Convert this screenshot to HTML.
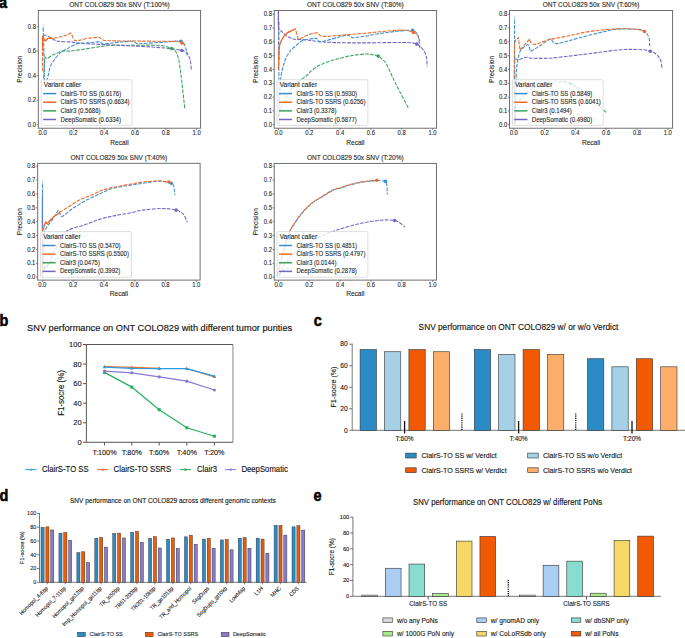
<!DOCTYPE html>
<html><head><meta charset="utf-8"><style>
html,body{margin:0;padding:0;background:#fff;}
body{width:685px;height:638px;overflow:hidden;}
svg{display:block;font-family:"Liberation Sans", sans-serif;}
text{}
</style></head><body>
<svg width="685" height="638" viewBox="0 0 685 638">
<rect width="685" height="638" fill="#fff"/>
<text x="-1" y="7.6" font-size="14.5" text-anchor="start" font-weight="bold" fill="#000" stroke="#000" stroke-width="0.51" transform="translate(-1 7.6) scale(1 1.08) translate(1 -7.6)">a</text>
<text x="-0.5" y="326.4" font-size="14.5" text-anchor="start" font-weight="bold" fill="#000" stroke="#000" stroke-width="0.51" transform="translate(-0.5 326.4) scale(1 1.08) translate(0.5 -326.4)">b</text>
<text x="313.8" y="325.9" font-size="14.5" text-anchor="start" font-weight="bold" fill="#000" stroke="#000" stroke-width="0.51" transform="translate(313.8 325.9) scale(1 1.08) translate(-313.8 -325.9)">c</text>
<text x="-0.5" y="500.7" font-size="14.5" text-anchor="start" font-weight="bold" fill="#000" stroke="#000" stroke-width="0.51" transform="translate(-0.5 500.7) scale(1 1.08) translate(0.5 -500.7)">d</text>
<text x="313.6" y="501.4" font-size="14.5" text-anchor="start" font-weight="bold" fill="#000" stroke="#000" stroke-width="0.51" transform="translate(313.6 501.4) scale(1 1.08) translate(-313.6 -501.4)">e</text>
<text x="27.1" y="331.2" font-size="9.23" text-anchor="start" font-weight="normal" fill="#111" stroke="#111" stroke-width="0.14" transform="translate(27.1 331.2) scale(1 1.08) translate(-27.1 -331.2)">SNV performance on ONT COLO829 with different tumor purities</text>
<line x1="232.9" y1="344.5" x2="232.9" y2="442.3" stroke="#a8a8a8" stroke-width="1.4"/>
<path d="M232.9 344.5 L86.4 344.5 L86.4 442.3 L232.9 442.3" stroke="#444" stroke-width="0.9" fill="none"/>
<line x1="82.9" y1="442.3" x2="86.4" y2="442.3" stroke="#444" stroke-width="0.9"/>
<text x="81.6" y="445" font-size="7.5" text-anchor="end" font-weight="normal" fill="#111" stroke="#111" stroke-width="0.11" transform="translate(81.6 445) scale(1 1.08) translate(-81.6 -445)">0</text>
<line x1="82.9" y1="422.74" x2="86.4" y2="422.74" stroke="#444" stroke-width="0.9"/>
<text x="81.6" y="425.44" font-size="7.5" text-anchor="end" font-weight="normal" fill="#111" stroke="#111" stroke-width="0.11" transform="translate(81.6 425.44) scale(1 1.08) translate(-81.6 -425.44)">20</text>
<line x1="82.9" y1="403.18" x2="86.4" y2="403.18" stroke="#444" stroke-width="0.9"/>
<text x="81.6" y="405.88" font-size="7.5" text-anchor="end" font-weight="normal" fill="#111" stroke="#111" stroke-width="0.11" transform="translate(81.6 405.88) scale(1 1.08) translate(-81.6 -405.88)">40</text>
<line x1="82.9" y1="383.62" x2="86.4" y2="383.62" stroke="#444" stroke-width="0.9"/>
<text x="81.6" y="386.32" font-size="7.5" text-anchor="end" font-weight="normal" fill="#111" stroke="#111" stroke-width="0.11" transform="translate(81.6 386.32) scale(1 1.08) translate(-81.6 -386.32)">60</text>
<line x1="82.9" y1="364.06" x2="86.4" y2="364.06" stroke="#444" stroke-width="0.9"/>
<text x="81.6" y="366.76" font-size="7.5" text-anchor="end" font-weight="normal" fill="#111" stroke="#111" stroke-width="0.11" transform="translate(81.6 366.76) scale(1 1.08) translate(-81.6 -366.76)">80</text>
<line x1="82.9" y1="344.5" x2="86.4" y2="344.5" stroke="#444" stroke-width="0.9"/>
<text x="81.6" y="347.2" font-size="7.5" text-anchor="end" font-weight="normal" fill="#111" stroke="#111" stroke-width="0.11" transform="translate(81.6 347.2) scale(1 1.08) translate(-81.6 -347.2)">100</text>
<line x1="104.5" y1="442.3" x2="104.5" y2="445.5" stroke="#444" stroke-width="0.9"/>
<text x="104.5" y="454.7" font-size="7.26" text-anchor="middle" font-weight="normal" fill="#111" stroke="#111" stroke-width="0.11" transform="translate(104.5 454.7) scale(1 1.08) translate(-104.5 -454.7)">T:100%</text>
<line x1="131.8" y1="442.3" x2="131.8" y2="445.5" stroke="#444" stroke-width="0.9"/>
<text x="131.8" y="454.7" font-size="7.26" text-anchor="middle" font-weight="normal" fill="#111" stroke="#111" stroke-width="0.11" transform="translate(131.8 454.7) scale(1 1.08) translate(-131.8 -454.7)">T:80%</text>
<line x1="159.2" y1="442.3" x2="159.2" y2="445.5" stroke="#444" stroke-width="0.9"/>
<text x="159.2" y="454.7" font-size="7.26" text-anchor="middle" font-weight="normal" fill="#111" stroke="#111" stroke-width="0.11" transform="translate(159.2 454.7) scale(1 1.08) translate(-159.2 -454.7)">T:60%</text>
<line x1="186.8" y1="442.3" x2="186.8" y2="445.5" stroke="#444" stroke-width="0.9"/>
<text x="186.8" y="454.7" font-size="7.26" text-anchor="middle" font-weight="normal" fill="#111" stroke="#111" stroke-width="0.11" transform="translate(186.8 454.7) scale(1 1.08) translate(-186.8 -454.7)">T:40%</text>
<line x1="214.4" y1="442.3" x2="214.4" y2="445.5" stroke="#444" stroke-width="0.9"/>
<text x="214.4" y="454.7" font-size="7.26" text-anchor="middle" font-weight="normal" fill="#111" stroke="#111" stroke-width="0.11" transform="translate(214.4 454.7) scale(1 1.08) translate(-214.4 -454.7)">T:20%</text>
<text x="64.5" y="393" font-size="7.9" text-anchor="middle" font-weight="normal" fill="#111" stroke="#111" stroke-width="0.12" transform="rotate(-90 64.5 393) translate(64.5 393) scale(1 1.08) translate(-64.5 -393)">F1-socre (%)</text>
<path d="M104.5 372.4 L131.8 387.1 L159.2 409.7 L186.8 427.8 L214.4 436.2" stroke="#22b05a" stroke-width="1.2" fill="none"/>
<rect x="103" y="370.9" width="3" height="3" fill="#22b05a" stroke="none" stroke-width="0"/>
<rect x="130.3" y="385.6" width="3" height="3" fill="#22b05a" stroke="none" stroke-width="0"/>
<rect x="157.7" y="408.2" width="3" height="3" fill="#22b05a" stroke="none" stroke-width="0"/>
<rect x="185.3" y="426.3" width="3" height="3" fill="#22b05a" stroke="none" stroke-width="0"/>
<rect x="212.9" y="434.7" width="3" height="3" fill="#22b05a" stroke="none" stroke-width="0"/>
<path d="M104.5 371.2 L131.8 372.8 L159.2 376.9 L186.8 381.2 L214.4 390" stroke="#8a77d6" stroke-width="1.2" fill="none"/>
<circle cx="104.5" cy="371.2" r="1.6" fill="#8a77d6"/>
<circle cx="131.8" cy="372.8" r="1.6" fill="#8a77d6"/>
<circle cx="159.2" cy="376.9" r="1.6" fill="#8a77d6"/>
<circle cx="186.8" cy="381.2" r="1.6" fill="#8a77d6"/>
<circle cx="214.4" cy="390" r="1.6" fill="#8a77d6"/>
<path d="M104.5 366.5 L131.8 367.4 L159.2 368.3 L186.8 368.5 L214.4 376.9" stroke="#f36b21" stroke-width="1.2" fill="none"/>
<path d="M104.5 364.7 L106.2 367.7 L102.8 367.7 Z" fill="#f36b21"/>
<path d="M131.8 365.6 L133.5 368.6 L130.1 368.6 Z" fill="#f36b21"/>
<path d="M159.2 366.5 L160.9 369.5 L157.5 369.5 Z" fill="#f36b21"/>
<path d="M186.8 366.7 L188.5 369.7 L185.1 369.7 Z" fill="#f36b21"/>
<path d="M214.4 375.1 L216.1 378.1 L212.7 378.1 Z" fill="#f36b21"/>
<path d="M104.5 367.1 L131.8 368.3 L159.2 368.7 L186.8 368.7 L214.4 376.2" stroke="#2e9be0" stroke-width="1.2" fill="none"/>
<path d="M104.5 365.3 L106.2 368.3 L102.8 368.3 Z" fill="#2e9be0"/>
<path d="M131.8 366.5 L133.5 369.5 L130.1 369.5 Z" fill="#2e9be0"/>
<path d="M159.2 366.9 L160.9 369.9 L157.5 369.9 Z" fill="#2e9be0"/>
<path d="M186.8 366.9 L188.5 369.9 L185.1 369.9 Z" fill="#2e9be0"/>
<path d="M214.4 374.4 L216.1 377.4 L212.7 377.4 Z" fill="#2e9be0"/>
<line x1="25.2" y1="469.6" x2="36.6" y2="469.6" stroke="#2e9be0" stroke-width="1"/>
<path d="M30.9 468.2 L32.2 470.6 L29.6 470.6 Z" fill="#2e9be0"/>
<text x="41.9" y="472.5" font-size="7.76" text-anchor="start" font-weight="normal" fill="#111" stroke="#111" stroke-width="0.12" transform="translate(41.9 472.5) scale(1 1.08) translate(-41.9 -472.5)">ClairS-TO SS</text>
<line x1="96.9" y1="469.6" x2="108.3" y2="469.6" stroke="#f36b21" stroke-width="1"/>
<path d="M102.6 468.2 L103.9 470.6 L101.3 470.6 Z" fill="#f36b21"/>
<text x="113.6" y="472.5" font-size="7.76" text-anchor="start" font-weight="normal" fill="#111" stroke="#111" stroke-width="0.12" transform="translate(113.6 472.5) scale(1 1.08) translate(-113.6 -472.5)">ClairS-TO SSRS</text>
<line x1="179.8" y1="469.6" x2="191.2" y2="469.6" stroke="#22b05a" stroke-width="1"/>
<rect x="184.4" y="468.5" width="2.2" height="2.2" fill="#22b05a" stroke="none" stroke-width="0"/>
<text x="196.9" y="472.5" font-size="7.76" text-anchor="start" font-weight="normal" fill="#111" stroke="#111" stroke-width="0.12" transform="translate(196.9 472.5) scale(1 1.08) translate(-196.9 -472.5)">Clair3</text>
<line x1="224.9" y1="469.6" x2="236.3" y2="469.6" stroke="#8a77d6" stroke-width="1"/>
<circle cx="230.6" cy="469.6" r="1.2" fill="#8a77d6"/>
<text x="241.4" y="472.5" font-size="7.76" text-anchor="start" font-weight="normal" fill="#111" stroke="#111" stroke-width="0.12" transform="translate(241.4 472.5) scale(1 1.08) translate(-241.4 -472.5)">DeepSomatic</text>
<text x="518.5" y="330.2" font-size="8.3" text-anchor="middle" font-weight="normal" fill="#111" stroke="#111" stroke-width="0.12" transform="translate(518.5 330.2) scale(1 1.08) translate(-518.5 -330.2)">SNV performance on ONT COLO829 w/ or w/o Verdict</text>
<line x1="352.2" y1="343.6" x2="352.2" y2="430.3" stroke="#555" stroke-width="0.8"/>
<line x1="352.2" y1="430.3" x2="685" y2="430.3" stroke="#555" stroke-width="0.8"/>
<line x1="349.2" y1="430.3" x2="352.2" y2="430.3" stroke="#555" stroke-width="0.8"/>
<text x="347.6" y="432.6" font-size="6.65" text-anchor="end" font-weight="normal" fill="#111" stroke="#111" stroke-width="0.1" transform="translate(347.6 432.6) scale(1 1.08) translate(-347.6 -432.6)">0</text>
<line x1="349.2" y1="408.77" x2="352.2" y2="408.77" stroke="#555" stroke-width="0.8"/>
<text x="347.6" y="411.07" font-size="6.65" text-anchor="end" font-weight="normal" fill="#111" stroke="#111" stroke-width="0.1" transform="translate(347.6 411.07) scale(1 1.08) translate(-347.6 -411.07)">20</text>
<line x1="349.2" y1="387.25" x2="352.2" y2="387.25" stroke="#555" stroke-width="0.8"/>
<text x="347.6" y="389.55" font-size="6.65" text-anchor="end" font-weight="normal" fill="#111" stroke="#111" stroke-width="0.1" transform="translate(347.6 389.55) scale(1 1.08) translate(-347.6 -389.55)">40</text>
<line x1="349.2" y1="365.73" x2="352.2" y2="365.73" stroke="#555" stroke-width="0.8"/>
<text x="347.6" y="368.03" font-size="6.65" text-anchor="end" font-weight="normal" fill="#111" stroke="#111" stroke-width="0.1" transform="translate(347.6 368.03) scale(1 1.08) translate(-347.6 -368.03)">60</text>
<line x1="349.2" y1="344.2" x2="352.2" y2="344.2" stroke="#555" stroke-width="0.8"/>
<text x="347.6" y="346.5" font-size="6.65" text-anchor="end" font-weight="normal" fill="#111" stroke="#111" stroke-width="0.1" transform="translate(347.6 346.5) scale(1 1.08) translate(-347.6 -346.5)">80</text>
<text x="336.3" y="387" font-size="7.1" text-anchor="middle" font-weight="normal" fill="#111" stroke="#111" stroke-width="0.11" transform="rotate(-90 336.3 387) translate(336.3 387) scale(1 1.08) translate(-336.3 -387)">F1-socre (%)</text>
<rect x="360.1" y="349.58" width="16.3" height="80.72" fill="#2b8bc6" stroke="#333" stroke-width="0.6"/>
<rect x="384.5" y="351.73" width="16.3" height="78.57" fill="#a5d0e5" stroke="#333" stroke-width="0.6"/>
<rect x="408.9" y="349.58" width="16.3" height="80.72" fill="#f15a02" stroke="#333" stroke-width="0.6"/>
<rect x="433.3" y="351.73" width="16.3" height="78.57" fill="#fdae6b" stroke="#333" stroke-width="0.6"/>
<line x1="404.6" y1="421" x2="404.6" y2="433.4" stroke="#111" stroke-width="1.3"/>
<text x="404.6" y="441.5" font-size="6.5" text-anchor="middle" font-weight="normal" fill="#111" stroke="#111" stroke-width="0.1" transform="translate(404.6 441.5) scale(1 1.08) translate(-404.6 -441.5)">T:60%</text>
<rect x="474.3" y="349.58" width="16.3" height="80.72" fill="#2b8bc6" stroke="#333" stroke-width="0.6"/>
<rect x="498.7" y="354.42" width="16.3" height="75.88" fill="#a5d0e5" stroke="#333" stroke-width="0.6"/>
<rect x="523.1" y="349.58" width="16.3" height="80.72" fill="#f15a02" stroke="#333" stroke-width="0.6"/>
<rect x="547.5" y="354.42" width="16.3" height="75.88" fill="#fdae6b" stroke="#333" stroke-width="0.6"/>
<line x1="518.6" y1="421" x2="518.6" y2="433.4" stroke="#111" stroke-width="1.3"/>
<text x="518.6" y="441.5" font-size="6.5" text-anchor="middle" font-weight="normal" fill="#111" stroke="#111" stroke-width="0.1" transform="translate(518.6 441.5) scale(1 1.08) translate(-518.6 -441.5)">T:40%</text>
<rect x="587.5" y="358.73" width="16.3" height="71.57" fill="#2b8bc6" stroke="#333" stroke-width="0.6"/>
<rect x="611.9" y="366.8" width="16.3" height="63.5" fill="#a5d0e5" stroke="#333" stroke-width="0.6"/>
<rect x="636.3" y="358.73" width="16.3" height="71.57" fill="#f15a02" stroke="#333" stroke-width="0.6"/>
<rect x="660.7" y="366.8" width="16.3" height="63.5" fill="#fdae6b" stroke="#333" stroke-width="0.6"/>
<line x1="632" y1="421" x2="632" y2="433.4" stroke="#111" stroke-width="1.3"/>
<text x="632" y="441.5" font-size="6.5" text-anchor="middle" font-weight="normal" fill="#111" stroke="#111" stroke-width="0.1" transform="translate(632 441.5) scale(1 1.08) translate(-632 -441.5)">T:20%</text>
<line x1="461.9" y1="413.4" x2="461.9" y2="430.3" stroke="#111" stroke-width="1.4" stroke-dasharray="1.1 1.1"/>
<line x1="575.7" y1="413.4" x2="575.7" y2="430.3" stroke="#111" stroke-width="1.4" stroke-dasharray="1.1 1.1"/>
<rect x="405.7" y="453.1" width="10.5" height="4.9" fill="#2b8bc6" stroke="#333" stroke-width="0.6"/>
<text x="421.5" y="458.1" font-size="7.08" text-anchor="start" font-weight="normal" fill="#111" stroke="#111" stroke-width="0.11" transform="translate(421.5 458.1) scale(1 1.08) translate(-421.5 -458.1)">ClairS-TO SS w/ Verdict</text>
<rect x="527.7" y="453.1" width="10.5" height="4.9" fill="#a5d0e5" stroke="#333" stroke-width="0.6"/>
<text x="542.9" y="458.1" font-size="7.08" text-anchor="start" font-weight="normal" fill="#111" stroke="#111" stroke-width="0.11" transform="translate(542.9 458.1) scale(1 1.08) translate(-542.9 -458.1)">ClairS-TO SS w/o Verdict</text>
<rect x="405.7" y="467.8" width="10.5" height="4.9" fill="#f15a02" stroke="#333" stroke-width="0.6"/>
<text x="421.5" y="472.8" font-size="7.08" text-anchor="start" font-weight="normal" fill="#111" stroke="#111" stroke-width="0.11" transform="translate(421.5 472.8) scale(1 1.08) translate(-421.5 -472.8)">ClairS-TO SSRS w/ Verdict</text>
<rect x="527.7" y="467.8" width="10.5" height="4.9" fill="#fdae6b" stroke="#333" stroke-width="0.6"/>
<text x="542.9" y="472.8" font-size="7.08" text-anchor="start" font-weight="normal" fill="#111" stroke="#111" stroke-width="0.11" transform="translate(542.9 472.8) scale(1 1.08) translate(-542.9 -472.8)">ClairS-TO SSRS w/o Verdict</text>
<text x="70" y="503.1" font-size="6.52" text-anchor="start" font-weight="normal" fill="#111" stroke="#111" stroke-width="0.1" transform="translate(70 503.1) scale(1 1.08) translate(-70 -503.1)">SNV performance on ONT COLO829 across different genomic contexts</text>
<line x1="39.5" y1="513" x2="39.5" y2="582.3" stroke="#555" stroke-width="0.8"/>
<line x1="39.5" y1="582.3" x2="306.6" y2="582.3" stroke="#555" stroke-width="0.8"/>
<line x1="36.9" y1="582.3" x2="39.5" y2="582.3" stroke="#555" stroke-width="0.8"/>
<text x="36.3" y="584.2" font-size="5.5" text-anchor="end" font-weight="normal" fill="#111" stroke="#111" stroke-width="0.08" transform="translate(36.3 584.2) scale(1 1.08) translate(-36.3 -584.2)">0</text>
<line x1="36.9" y1="568.52" x2="39.5" y2="568.52" stroke="#555" stroke-width="0.8"/>
<text x="36.3" y="570.42" font-size="5.5" text-anchor="end" font-weight="normal" fill="#111" stroke="#111" stroke-width="0.08" transform="translate(36.3 570.42) scale(1 1.08) translate(-36.3 -570.42)">20</text>
<line x1="36.9" y1="554.74" x2="39.5" y2="554.74" stroke="#555" stroke-width="0.8"/>
<text x="36.3" y="556.64" font-size="5.5" text-anchor="end" font-weight="normal" fill="#111" stroke="#111" stroke-width="0.08" transform="translate(36.3 556.64) scale(1 1.08) translate(-36.3 -556.64)">40</text>
<line x1="36.9" y1="540.96" x2="39.5" y2="540.96" stroke="#555" stroke-width="0.8"/>
<text x="36.3" y="542.86" font-size="5.5" text-anchor="end" font-weight="normal" fill="#111" stroke="#111" stroke-width="0.08" transform="translate(36.3 542.86) scale(1 1.08) translate(-36.3 -542.86)">60</text>
<line x1="36.9" y1="527.18" x2="39.5" y2="527.18" stroke="#555" stroke-width="0.8"/>
<text x="36.3" y="529.08" font-size="5.5" text-anchor="end" font-weight="normal" fill="#111" stroke="#111" stroke-width="0.08" transform="translate(36.3 529.08) scale(1 1.08) translate(-36.3 -529.08)">80</text>
<line x1="36.9" y1="513.4" x2="39.5" y2="513.4" stroke="#555" stroke-width="0.8"/>
<text x="36.3" y="515.3" font-size="5.5" text-anchor="end" font-weight="normal" fill="#111" stroke="#111" stroke-width="0.08" transform="translate(36.3 515.3) scale(1 1.08) translate(-36.3 -515.3)">100</text>
<text x="23.9" y="547.7" font-size="5.7" text-anchor="middle" font-weight="normal" fill="#111" stroke="#111" stroke-width="0.09" transform="rotate(-90 23.9 547.7) translate(23.9 547.7) scale(1 1.08) translate(-23.9 -547.7)">F1-socre (%)</text>
<rect x="41" y="527.32" width="3.1" height="54.98" fill="#2b8bc6" stroke="#333" stroke-width="0.45"/>
<rect x="45.85" y="526.84" width="3.1" height="55.46" fill="#f15a02" stroke="#333" stroke-width="0.45"/>
<rect x="50.7" y="529.94" width="3.1" height="52.36" fill="#8a7bc6" stroke="#333" stroke-width="0.45"/>
<line x1="47.3" y1="582.3" x2="47.3" y2="584.3" stroke="#555" stroke-width="0.7"/>
<text x="48.3" y="588.9" font-size="5.3" text-anchor="end" font-weight="normal" fill="#111" stroke="#111" stroke-width="0.08" transform="rotate(-45 48.3 588.9) translate(48.3 588.9) scale(1 1.08) translate(-48.3 -588.9)">Homopol_4-6bp</text>
<rect x="58.93" y="533.17" width="3.1" height="49.13" fill="#2b8bc6" stroke="#333" stroke-width="0.45"/>
<rect x="63.78" y="532.49" width="3.1" height="49.81" fill="#f15a02" stroke="#333" stroke-width="0.45"/>
<rect x="68.63" y="540.27" width="3.1" height="42.03" fill="#8a7bc6" stroke="#333" stroke-width="0.45"/>
<line x1="65.23" y1="582.3" x2="65.23" y2="584.3" stroke="#555" stroke-width="0.7"/>
<text x="66.23" y="588.9" font-size="5.3" text-anchor="end" font-weight="normal" fill="#111" stroke="#111" stroke-width="0.08" transform="rotate(-45 66.23 588.9) translate(66.23 588.9) scale(1 1.08) translate(-66.23 -588.9)">Homopol_7-11bp</text>
<rect x="76.86" y="552.67" width="3.1" height="29.63" fill="#2b8bc6" stroke="#333" stroke-width="0.45"/>
<rect x="81.71" y="551.78" width="3.1" height="30.52" fill="#f15a02" stroke="#333" stroke-width="0.45"/>
<rect x="86.56" y="562.59" width="3.1" height="19.71" fill="#8a7bc6" stroke="#333" stroke-width="0.45"/>
<line x1="83.16" y1="582.3" x2="83.16" y2="584.3" stroke="#555" stroke-width="0.7"/>
<text x="84.16" y="588.9" font-size="5.3" text-anchor="end" font-weight="normal" fill="#111" stroke="#111" stroke-width="0.08" transform="rotate(-45 84.16 588.9) translate(84.16 588.9) scale(1 1.08) translate(-84.16 -588.9)">Homopol_ge12bp</text>
<rect x="94.79" y="538.2" width="3.1" height="44.1" fill="#2b8bc6" stroke="#333" stroke-width="0.45"/>
<rect x="99.64" y="537.38" width="3.1" height="44.92" fill="#f15a02" stroke="#333" stroke-width="0.45"/>
<rect x="104.49" y="547.09" width="3.1" height="35.21" fill="#8a7bc6" stroke="#333" stroke-width="0.45"/>
<line x1="101.09" y1="582.3" x2="101.09" y2="584.3" stroke="#555" stroke-width="0.7"/>
<text x="102.09" y="588.9" font-size="5.3" text-anchor="end" font-weight="normal" fill="#111" stroke="#111" stroke-width="0.08" transform="rotate(-45 102.09 588.9) translate(102.09 588.9) scale(1 1.08) translate(-102.09 -588.9)">Imp_Homopol_ge11bp</text>
<rect x="112.72" y="533.38" width="3.1" height="48.92" fill="#2b8bc6" stroke="#333" stroke-width="0.45"/>
<rect x="117.57" y="533.11" width="3.1" height="49.19" fill="#f15a02" stroke="#333" stroke-width="0.45"/>
<rect x="122.42" y="537.93" width="3.1" height="44.37" fill="#8a7bc6" stroke="#333" stroke-width="0.45"/>
<line x1="119.02" y1="582.3" x2="119.02" y2="584.3" stroke="#555" stroke-width="0.7"/>
<text x="120.02" y="588.9" font-size="5.3" text-anchor="end" font-weight="normal" fill="#111" stroke="#111" stroke-width="0.08" transform="rotate(-45 120.02 588.9) translate(120.02 588.9) scale(1 1.08) translate(-120.02 -588.9)">TR_le50bp</text>
<rect x="130.65" y="532.28" width="3.1" height="50.02" fill="#2b8bc6" stroke="#333" stroke-width="0.45"/>
<rect x="135.5" y="531.52" width="3.1" height="50.78" fill="#f15a02" stroke="#333" stroke-width="0.45"/>
<rect x="140.35" y="542.34" width="3.1" height="39.96" fill="#8a7bc6" stroke="#333" stroke-width="0.45"/>
<line x1="136.95" y1="582.3" x2="136.95" y2="584.3" stroke="#555" stroke-width="0.7"/>
<text x="137.95" y="588.9" font-size="5.3" text-anchor="end" font-weight="normal" fill="#111" stroke="#111" stroke-width="0.08" transform="rotate(-45 137.95 588.9) translate(137.95 588.9) scale(1 1.08) translate(-137.95 -588.9)">TR51-200bp</text>
<rect x="148.58" y="538.2" width="3.1" height="44.1" fill="#2b8bc6" stroke="#333" stroke-width="0.45"/>
<rect x="153.43" y="536.62" width="3.1" height="45.68" fill="#f15a02" stroke="#333" stroke-width="0.45"/>
<rect x="158.28" y="547.99" width="3.1" height="34.31" fill="#8a7bc6" stroke="#333" stroke-width="0.45"/>
<line x1="154.88" y1="582.3" x2="154.88" y2="584.3" stroke="#555" stroke-width="0.7"/>
<text x="155.88" y="588.9" font-size="5.3" text-anchor="end" font-weight="normal" fill="#111" stroke="#111" stroke-width="0.08" transform="rotate(-45 155.88 588.9) translate(155.88 588.9) scale(1 1.08) translate(-155.88 -588.9)">TR201-10kbp</text>
<rect x="166.51" y="539.24" width="3.1" height="43.06" fill="#2b8bc6" stroke="#333" stroke-width="0.45"/>
<rect x="171.36" y="537.93" width="3.1" height="44.37" fill="#f15a02" stroke="#333" stroke-width="0.45"/>
<rect x="176.21" y="548.4" width="3.1" height="33.9" fill="#8a7bc6" stroke="#333" stroke-width="0.45"/>
<line x1="172.81" y1="582.3" x2="172.81" y2="584.3" stroke="#555" stroke-width="0.7"/>
<text x="173.81" y="588.9" font-size="5.3" text-anchor="end" font-weight="normal" fill="#111" stroke="#111" stroke-width="0.08" transform="rotate(-45 173.81 588.9) translate(173.81 588.9) scale(1 1.08) translate(-173.81 -588.9)">TR_ge101bp</text>
<rect x="184.44" y="536.83" width="3.1" height="45.47" fill="#2b8bc6" stroke="#333" stroke-width="0.45"/>
<rect x="189.29" y="535.17" width="3.1" height="47.13" fill="#f15a02" stroke="#333" stroke-width="0.45"/>
<rect x="194.14" y="544.27" width="3.1" height="38.03" fill="#8a7bc6" stroke="#333" stroke-width="0.45"/>
<line x1="190.74" y1="582.3" x2="190.74" y2="584.3" stroke="#555" stroke-width="0.7"/>
<text x="191.74" y="588.9" font-size="5.3" text-anchor="end" font-weight="normal" fill="#111" stroke="#111" stroke-width="0.08" transform="rotate(-45 191.74 588.9) translate(191.74 588.9) scale(1 1.08) translate(-191.74 -588.9)">TR_and_Homopol</text>
<rect x="202.37" y="539.1" width="3.1" height="43.2" fill="#2b8bc6" stroke="#333" stroke-width="0.45"/>
<rect x="207.22" y="538.2" width="3.1" height="44.1" fill="#f15a02" stroke="#333" stroke-width="0.45"/>
<rect x="212.07" y="548.26" width="3.1" height="34.04" fill="#8a7bc6" stroke="#333" stroke-width="0.45"/>
<line x1="208.67" y1="582.3" x2="208.67" y2="584.3" stroke="#555" stroke-width="0.7"/>
<text x="209.67" y="588.9" font-size="5.3" text-anchor="end" font-weight="normal" fill="#111" stroke="#111" stroke-width="0.08" transform="rotate(-45 209.67 588.9) translate(209.67 588.9) scale(1 1.08) translate(-209.67 -588.9)">SegDups</text>
<rect x="220.3" y="539.93" width="3.1" height="42.37" fill="#2b8bc6" stroke="#333" stroke-width="0.45"/>
<rect x="225.15" y="539.38" width="3.1" height="42.92" fill="#f15a02" stroke="#333" stroke-width="0.45"/>
<rect x="230" y="549.78" width="3.1" height="32.52" fill="#8a7bc6" stroke="#333" stroke-width="0.45"/>
<line x1="226.6" y1="582.3" x2="226.6" y2="584.3" stroke="#555" stroke-width="0.7"/>
<text x="227.6" y="588.9" font-size="5.3" text-anchor="end" font-weight="normal" fill="#111" stroke="#111" stroke-width="0.08" transform="rotate(-45 227.6 588.9) translate(227.6 588.9) scale(1 1.08) translate(-227.6 -588.9)">SegDups_gt10kb</text>
<rect x="238.23" y="538.2" width="3.1" height="44.1" fill="#2b8bc6" stroke="#333" stroke-width="0.45"/>
<rect x="243.08" y="537.65" width="3.1" height="44.65" fill="#f15a02" stroke="#333" stroke-width="0.45"/>
<rect x="247.93" y="548.26" width="3.1" height="34.04" fill="#8a7bc6" stroke="#333" stroke-width="0.45"/>
<line x1="244.53" y1="582.3" x2="244.53" y2="584.3" stroke="#555" stroke-width="0.7"/>
<text x="245.53" y="588.9" font-size="5.3" text-anchor="end" font-weight="normal" fill="#111" stroke="#111" stroke-width="0.08" transform="rotate(-45 245.53 588.9) translate(245.53 588.9) scale(1 1.08) translate(-245.53 -588.9)">LowMap</text>
<rect x="256.16" y="538.2" width="3.1" height="44.1" fill="#2b8bc6" stroke="#333" stroke-width="0.45"/>
<rect x="261.01" y="539.1" width="3.1" height="43.2" fill="#f15a02" stroke="#333" stroke-width="0.45"/>
<rect x="265.86" y="553.16" width="3.1" height="29.14" fill="#8a7bc6" stroke="#333" stroke-width="0.45"/>
<line x1="262.46" y1="582.3" x2="262.46" y2="584.3" stroke="#555" stroke-width="0.7"/>
<text x="263.46" y="588.9" font-size="5.3" text-anchor="end" font-weight="normal" fill="#111" stroke="#111" stroke-width="0.08" transform="rotate(-45 263.46 588.9) translate(263.46 588.9) scale(1 1.08) translate(-263.46 -588.9)">L1H</text>
<rect x="274.09" y="525.32" width="3.1" height="56.98" fill="#2b8bc6" stroke="#333" stroke-width="0.45"/>
<rect x="278.94" y="525.32" width="3.1" height="56.98" fill="#f15a02" stroke="#333" stroke-width="0.45"/>
<rect x="283.79" y="535.1" width="3.1" height="47.2" fill="#8a7bc6" stroke="#333" stroke-width="0.45"/>
<line x1="280.39" y1="582.3" x2="280.39" y2="584.3" stroke="#555" stroke-width="0.7"/>
<text x="281.39" y="588.9" font-size="5.3" text-anchor="end" font-weight="normal" fill="#111" stroke="#111" stroke-width="0.08" transform="rotate(-45 281.39 588.9) translate(281.39 588.9) scale(1 1.08) translate(-281.39 -588.9)">MHC</text>
<rect x="292.02" y="526.84" width="3.1" height="55.46" fill="#2b8bc6" stroke="#333" stroke-width="0.45"/>
<rect x="296.87" y="525.73" width="3.1" height="56.57" fill="#f15a02" stroke="#333" stroke-width="0.45"/>
<rect x="301.72" y="530.07" width="3.1" height="52.23" fill="#8a7bc6" stroke="#333" stroke-width="0.45"/>
<line x1="298.32" y1="582.3" x2="298.32" y2="584.3" stroke="#555" stroke-width="0.7"/>
<text x="299.32" y="588.9" font-size="5.3" text-anchor="end" font-weight="normal" fill="#111" stroke="#111" stroke-width="0.08" transform="rotate(-45 299.32 588.9) translate(299.32 588.9) scale(1 1.08) translate(-299.32 -588.9)">CDS</text>
<rect x="77.5" y="632.3" width="7.8" height="4.3" fill="#2b8bc6" stroke="#333" stroke-width="0.5"/>
<text x="89.6" y="636.4" font-size="5.5" text-anchor="start" font-weight="normal" fill="#111" stroke="#111" stroke-width="0.08" transform="translate(89.6 636.4) scale(1 1.08) translate(-89.6 -636.4)">ClairS-TO SS</text>
<rect x="145.3" y="632.3" width="7.8" height="4.3" fill="#f15a02" stroke="#333" stroke-width="0.5"/>
<text x="157.4" y="636.4" font-size="5.5" text-anchor="start" font-weight="normal" fill="#111" stroke="#111" stroke-width="0.08" transform="translate(157.4 636.4) scale(1 1.08) translate(-157.4 -636.4)">ClairS-TO SSRS</text>
<rect x="221.2" y="632.3" width="7.8" height="4.3" fill="#8a7bc6" stroke="#333" stroke-width="0.5"/>
<text x="232.9" y="636.4" font-size="5.5" text-anchor="start" font-weight="normal" fill="#111" stroke="#111" stroke-width="0.08" transform="translate(232.9 636.4) scale(1 1.08) translate(-232.9 -636.4)">DeepSomatic</text>
<text x="507.6" y="504.9" font-size="7.77" text-anchor="middle" font-weight="normal" fill="#111" stroke="#111" stroke-width="0.12" transform="translate(507.6 504.9) scale(1 1.08) translate(-507.6 -504.9)">SNV performance on ONT COLO829 w/ different PoNs</text>
<line x1="352.9" y1="516.8" x2="352.9" y2="596.3" stroke="#555" stroke-width="0.8"/>
<line x1="352.9" y1="596.3" x2="661.1" y2="596.3" stroke="#555" stroke-width="0.8"/>
<line x1="350.1" y1="596.3" x2="352.9" y2="596.3" stroke="#555" stroke-width="0.8"/>
<text x="349.3" y="598.3" font-size="5.75" text-anchor="end" font-weight="normal" fill="#111" stroke="#111" stroke-width="0.09" transform="translate(349.3 598.3) scale(1 1.08) translate(-349.3 -598.3)">0</text>
<line x1="350.1" y1="580.46" x2="352.9" y2="580.46" stroke="#555" stroke-width="0.8"/>
<text x="349.3" y="582.46" font-size="5.75" text-anchor="end" font-weight="normal" fill="#111" stroke="#111" stroke-width="0.09" transform="translate(349.3 582.46) scale(1 1.08) translate(-349.3 -582.46)">20</text>
<line x1="350.1" y1="564.62" x2="352.9" y2="564.62" stroke="#555" stroke-width="0.8"/>
<text x="349.3" y="566.62" font-size="5.75" text-anchor="end" font-weight="normal" fill="#111" stroke="#111" stroke-width="0.09" transform="translate(349.3 566.62) scale(1 1.08) translate(-349.3 -566.62)">40</text>
<line x1="350.1" y1="548.78" x2="352.9" y2="548.78" stroke="#555" stroke-width="0.8"/>
<text x="349.3" y="550.78" font-size="5.75" text-anchor="end" font-weight="normal" fill="#111" stroke="#111" stroke-width="0.09" transform="translate(349.3 550.78) scale(1 1.08) translate(-349.3 -550.78)">60</text>
<line x1="350.1" y1="532.94" x2="352.9" y2="532.94" stroke="#555" stroke-width="0.8"/>
<text x="349.3" y="534.94" font-size="5.75" text-anchor="end" font-weight="normal" fill="#111" stroke="#111" stroke-width="0.09" transform="translate(349.3 534.94) scale(1 1.08) translate(-349.3 -534.94)">80</text>
<line x1="350.1" y1="517.1" x2="352.9" y2="517.1" stroke="#555" stroke-width="0.8"/>
<text x="349.3" y="519.1" font-size="5.75" text-anchor="end" font-weight="normal" fill="#111" stroke="#111" stroke-width="0.09" transform="translate(349.3 519.1) scale(1 1.08) translate(-349.3 -519.1)">100</text>
<text x="333.6" y="556.7" font-size="6.4" text-anchor="middle" font-weight="normal" fill="#111" stroke="#111" stroke-width="0.1" transform="rotate(-90 333.6 556.7) translate(333.6 556.7) scale(1 1.08) translate(-333.6 -556.7)">F1-socre (%)</text>
<rect x="361.7" y="595.11" width="15.7" height="1.19" fill="#d9d9d9" stroke="#333" stroke-width="0.6"/>
<rect x="385.35" y="568.26" width="15.7" height="28.04" fill="#aacdf3" stroke="#333" stroke-width="0.6"/>
<rect x="409" y="564.07" width="15.7" height="32.23" fill="#88ddcf" stroke="#333" stroke-width="0.6"/>
<rect x="432.65" y="593.61" width="15.7" height="2.69" fill="#a5eb8a" stroke="#333" stroke-width="0.6"/>
<rect x="456.3" y="541.1" width="15.7" height="55.2" fill="#f5d865" stroke="#333" stroke-width="0.6"/>
<rect x="479.95" y="536.42" width="15.7" height="59.88" fill="#f15a02" stroke="#333" stroke-width="0.6"/>
<line x1="428.2" y1="596.3" x2="428.2" y2="599.5" stroke="#444" stroke-width="0.9"/>
<text x="428.2" y="606.5" font-size="6.25" text-anchor="middle" font-weight="normal" fill="#111" stroke="#111" stroke-width="0.09" transform="translate(428.2 606.5) scale(1 1.08) translate(-428.2 -606.5)">ClairS-TO SS</text>
<rect x="519.5" y="595.11" width="15.7" height="1.19" fill="#d9d9d9" stroke="#333" stroke-width="0.6"/>
<rect x="543.15" y="565.25" width="15.7" height="31.05" fill="#aacdf3" stroke="#333" stroke-width="0.6"/>
<rect x="566.8" y="561.14" width="15.7" height="35.16" fill="#88ddcf" stroke="#333" stroke-width="0.6"/>
<rect x="590.45" y="593.21" width="15.7" height="3.09" fill="#a5eb8a" stroke="#333" stroke-width="0.6"/>
<rect x="614.1" y="540.38" width="15.7" height="55.92" fill="#f5d865" stroke="#333" stroke-width="0.6"/>
<rect x="637.75" y="536.11" width="15.7" height="60.19" fill="#f15a02" stroke="#333" stroke-width="0.6"/>
<line x1="586.5" y1="596.3" x2="586.5" y2="599.5" stroke="#444" stroke-width="0.9"/>
<text x="586.5" y="606.5" font-size="6.25" text-anchor="middle" font-weight="normal" fill="#111" stroke="#111" stroke-width="0.09" transform="translate(586.5 606.5) scale(1 1.08) translate(-586.5 -606.5)">ClairS-TO SSRS</text>
<line x1="508.3" y1="579.9" x2="508.3" y2="596.3" stroke="#111" stroke-width="1.4" stroke-dasharray="1.1 1.1"/>
<rect x="382.9" y="617.9" width="9.5" height="4.6" fill="#d9d9d9" stroke="#333" stroke-width="0.6"/>
<text x="396.9" y="622.6" font-size="6.65" text-anchor="start" font-weight="normal" fill="#111" stroke="#111" stroke-width="0.1" transform="translate(396.9 622.6) scale(1 1.08) translate(-396.9 -622.6)">w/o any PoNs</text>
<rect x="476.8" y="617.9" width="9.5" height="4.6" fill="#aacdf3" stroke="#333" stroke-width="0.6"/>
<text x="490.8" y="622.6" font-size="6.65" text-anchor="start" font-weight="normal" fill="#111" stroke="#111" stroke-width="0.1" transform="translate(490.8 622.6) scale(1 1.08) translate(-490.8 -622.6)">w/ gnomAD only</text>
<rect x="571.3" y="617.9" width="9.5" height="4.6" fill="#88ddcf" stroke="#333" stroke-width="0.6"/>
<text x="585.3" y="622.6" font-size="6.65" text-anchor="start" font-weight="normal" fill="#111" stroke="#111" stroke-width="0.1" transform="translate(585.3 622.6) scale(1 1.08) translate(-585.3 -622.6)">w/ dbSNP only</text>
<rect x="382.9" y="631.4" width="9.5" height="4.6" fill="#a5eb8a" stroke="#333" stroke-width="0.6"/>
<text x="396.9" y="636.1" font-size="6.65" text-anchor="start" font-weight="normal" fill="#111" stroke="#111" stroke-width="0.1" transform="translate(396.9 636.1) scale(1 1.08) translate(-396.9 -636.1)">w/ 1000G PoN only</text>
<rect x="476.8" y="631.4" width="9.5" height="4.6" fill="#f5d865" stroke="#333" stroke-width="0.6"/>
<text x="490.8" y="636.1" font-size="6.65" text-anchor="start" font-weight="normal" fill="#111" stroke="#111" stroke-width="0.1" transform="translate(490.8 636.1) scale(1 1.08) translate(-490.8 -636.1)">w/ CoLoRSdb only</text>
<rect x="571.3" y="631.4" width="9.5" height="4.6" fill="#f15a02" stroke="#333" stroke-width="0.6"/>
<text x="585.3" y="636.1" font-size="6.65" text-anchor="start" font-weight="normal" fill="#111" stroke="#111" stroke-width="0.1" transform="translate(585.3 636.1) scale(1 1.08) translate(-585.3 -636.1)">w/ all PoNs</text>
<rect x="38.3" y="10.4" width="162.3" height="117.8" fill="none" stroke="#606060" stroke-width="0.9"/>
<line x1="42.6" y1="128.2" x2="42.6" y2="129.8" stroke="#606060" stroke-width="0.8"/>
<text x="42.6" y="134.8" font-size="5.9" text-anchor="middle" font-weight="normal" fill="#262626" stroke="#262626" stroke-width="0.09" transform="translate(42.6 134.8) scale(1 1.08) translate(-42.6 -134.8)">0.0</text>
<line x1="73.4" y1="128.2" x2="73.4" y2="129.8" stroke="#606060" stroke-width="0.8"/>
<text x="73.4" y="134.8" font-size="5.9" text-anchor="middle" font-weight="normal" fill="#262626" stroke="#262626" stroke-width="0.09" transform="translate(73.4 134.8) scale(1 1.08) translate(-73.4 -134.8)">0.2</text>
<line x1="104.2" y1="128.2" x2="104.2" y2="129.8" stroke="#606060" stroke-width="0.8"/>
<text x="104.2" y="134.8" font-size="5.9" text-anchor="middle" font-weight="normal" fill="#262626" stroke="#262626" stroke-width="0.09" transform="translate(104.2 134.8) scale(1 1.08) translate(-104.2 -134.8)">0.4</text>
<line x1="135" y1="128.2" x2="135" y2="129.8" stroke="#606060" stroke-width="0.8"/>
<text x="135" y="134.8" font-size="5.9" text-anchor="middle" font-weight="normal" fill="#262626" stroke="#262626" stroke-width="0.09" transform="translate(135 134.8) scale(1 1.08) translate(-135 -134.8)">0.6</text>
<line x1="165.8" y1="128.2" x2="165.8" y2="129.8" stroke="#606060" stroke-width="0.8"/>
<text x="165.8" y="134.8" font-size="5.9" text-anchor="middle" font-weight="normal" fill="#262626" stroke="#262626" stroke-width="0.09" transform="translate(165.8 134.8) scale(1 1.08) translate(-165.8 -134.8)">0.8</text>
<line x1="196.6" y1="128.2" x2="196.6" y2="129.8" stroke="#606060" stroke-width="0.8"/>
<text x="196.6" y="134.8" font-size="5.9" text-anchor="middle" font-weight="normal" fill="#262626" stroke="#262626" stroke-width="0.09" transform="translate(196.6 134.8) scale(1 1.08) translate(-196.6 -134.8)">1.0</text>
<line x1="36.7" y1="124.7" x2="38.3" y2="124.7" stroke="#606060" stroke-width="0.8"/>
<text x="36" y="126.8" font-size="5.9" text-anchor="end" font-weight="normal" fill="#262626" stroke="#262626" stroke-width="0.09" transform="translate(36 126.8) scale(1 1.08) translate(-36 -126.8)">0.0</text>
<line x1="36.7" y1="100.2" x2="38.3" y2="100.2" stroke="#606060" stroke-width="0.8"/>
<text x="36" y="102.3" font-size="5.9" text-anchor="end" font-weight="normal" fill="#262626" stroke="#262626" stroke-width="0.09" transform="translate(36 102.3) scale(1 1.08) translate(-36 -102.3)">0.2</text>
<line x1="36.7" y1="75.7" x2="38.3" y2="75.7" stroke="#606060" stroke-width="0.8"/>
<text x="36" y="77.8" font-size="5.9" text-anchor="end" font-weight="normal" fill="#262626" stroke="#262626" stroke-width="0.09" transform="translate(36 77.8) scale(1 1.08) translate(-36 -77.8)">0.4</text>
<line x1="36.7" y1="51.2" x2="38.3" y2="51.2" stroke="#606060" stroke-width="0.8"/>
<text x="36" y="53.3" font-size="5.9" text-anchor="end" font-weight="normal" fill="#262626" stroke="#262626" stroke-width="0.09" transform="translate(36 53.3) scale(1 1.08) translate(-36 -53.3)">0.6</text>
<line x1="36.7" y1="26.7" x2="38.3" y2="26.7" stroke="#606060" stroke-width="0.8"/>
<text x="36" y="28.8" font-size="5.9" text-anchor="end" font-weight="normal" fill="#262626" stroke="#262626" stroke-width="0.09" transform="translate(36 28.8) scale(1 1.08) translate(-36 -28.8)">0.8</text>
<text x="119.45" y="7.1" font-size="6.55" text-anchor="middle" font-weight="normal" fill="#262626" stroke="#262626" stroke-width="0.1" transform="translate(119.45 7.1) scale(1 1.08) translate(-119.45 -7.1)">ONT COLO829 50x SNV (T:100%)</text>
<text x="119.45" y="144.6" font-size="6.6" text-anchor="middle" font-weight="normal" fill="#262626" stroke="#262626" stroke-width="0.1" transform="translate(119.45 144.6) scale(1 1.08) translate(-119.45 -144.6)">Recall</text>
<text x="22.1" y="69.3" font-size="6.6" text-anchor="middle" font-weight="normal" fill="#262626" stroke="#262626" stroke-width="0.1" transform="rotate(-90 22.1 69.3) translate(22.1 69.3) scale(1 1.08) translate(-22.1 -69.3)">Precision</text>
<clipPath id="clipa0"><rect x="38.3" y="10.4" width="162.3" height="117.8"/></clipPath>
<g clip-path="url(#clipa0)">
<line x1="43.3" y1="24.1" x2="43.3" y2="30.0" stroke="#3f8fd2" stroke-width="0.7" stroke-opacity="0.5"/>
<path d="M43.60 78.20 C43.85 74.70 44.58 60.43 45.10 57.20 C45.24 56.31 45.83 59.06 46.70 58.80 C48.07 58.38 50.67 55.98 53.30 54.70 C55.93 53.42 59.72 51.70 62.50 51.10 C65.28 50.50 67.01 51.38 70.00 51.10 C73.80 50.75 80.18 49.77 85.30 49.00 C90.42 48.23 96.43 47.10 100.70 46.50 C104.76 45.93 106.80 45.54 110.90 45.40 C117.45 45.18 131.75 45.18 140.00 45.20 C148.16 45.22 155.12 44.93 160.40 45.50 C165.06 46.00 169.13 47.57 171.70 48.60 C173.61 49.37 174.71 49.95 175.80 51.70 C176.98 53.60 178.11 56.54 178.80 60.00 C179.80 65.05 180.80 73.85 181.80 82.00 C182.80 90.15 184.30 104.42 184.80 108.90" fill="none" stroke="#3aa75e" stroke-width="1.1" stroke-dasharray="3.7 1.3" stroke-dashoffset="0" stroke-linejoin="round"/>
<path d="M43.00 55.70 C43.00 52.47 42.47 39.72 43.00 36.30 C43.21 34.96 44.90 34.81 46.20 35.20 C47.92 35.72 51.27 38.37 53.30 39.40 C55.25 40.39 56.23 41.08 58.40 41.40 C61.18 41.82 66.37 41.57 70.00 41.90 C73.63 42.23 76.80 43.07 80.20 43.40 C83.60 43.73 86.98 43.73 90.40 43.90 C93.82 44.07 96.58 44.20 100.70 44.40 C105.82 44.65 114.55 45.08 121.10 45.40 C127.65 45.72 132.60 45.85 140.00 46.30 C147.40 46.75 158.52 47.40 165.50 48.10 C172.10 48.76 178.40 49.73 181.90 50.50 C183.89 50.94 185.13 51.23 186.50 52.70 C187.87 54.17 189.30 56.40 190.10 59.30 C190.92 62.25 191.18 68.55 191.40 70.40" fill="none" stroke="#7466c2" stroke-width="1.1" stroke-dasharray="3.7 1.3" stroke-dashoffset="0" stroke-linejoin="round"/>
<path d="M43.30 28.00 C43.30 29.00 43.23 31.60 43.30 34.00 C43.45 39.33 43.98 52.13 44.20 60.00 C44.42 67.87 44.10 78.00 44.60 81.20 C44.80 82.50 46.72 80.42 47.20 79.20 C48.13 76.82 49.02 70.13 50.20 66.90 C51.33 63.82 52.60 62.17 54.30 59.80 C56.00 57.43 58.18 54.57 60.40 52.70 C62.62 50.83 66.00 49.55 67.60 48.60 C68.59 48.01 68.96 47.51 70.00 47.00 C71.77 46.13 75.13 44.08 78.20 43.40 C81.27 42.72 84.83 43.15 88.40 42.90 C91.97 42.65 97.22 41.73 99.60 41.90 C101.07 42.00 101.24 43.66 102.70 43.90 C104.23 44.15 106.37 43.66 108.80 43.40 C111.87 43.07 117.00 42.25 121.10 41.90 C125.20 41.55 130.85 41.05 133.40 41.30 C134.86 41.44 135.30 43.00 136.40 43.40 C137.50 43.80 138.56 43.77 140.00 43.70 C144.85 43.47 158.68 42.45 165.50 42.00 C171.66 41.59 177.83 40.75 180.90 41.00 C182.46 41.13 183.12 42.15 183.90 43.50 C184.83 45.12 185.98 48.73 186.50 50.70 C186.97 52.49 186.92 54.53 187.00 55.30" fill="none" stroke="#3f8fd2" stroke-width="1.1" stroke-dasharray="3.7 1.3" stroke-dashoffset="0" stroke-linejoin="round"/>
<path d="M42.60 71.00 C42.60 65.22 42.18 41.32 42.60 36.30 C42.77 34.21 44.17 40.55 45.10 40.90 C46.03 41.25 46.83 38.82 48.20 38.40 C49.57 37.98 51.29 38.77 53.30 38.40 C56.53 37.80 64.67 35.65 67.60 34.80 C68.99 34.40 69.76 32.40 70.90 33.30 C72.07 34.22 73.05 39.17 74.60 40.30 C76.15 41.43 77.98 40.42 80.20 40.10 C82.50 39.77 85.33 38.77 88.40 38.30 C91.47 37.83 96.55 37.30 98.60 37.30 C99.53 37.30 99.90 37.83 100.70 38.30 C101.55 38.80 102.30 39.96 103.70 40.30 C105.40 40.72 108.01 40.74 110.90 40.80 C116.95 40.93 128.50 40.98 140.00 41.10 C151.50 41.22 172.92 41.18 179.90 41.50 C180.90 41.55 181.06 42.46 181.90 43.00 C182.75 43.55 184.48 44.50 185.00 44.80" fill="none" stroke="#ec6b2d" stroke-width="1.1" stroke-dasharray="3.7 1.3" stroke-dashoffset="0" stroke-linejoin="round"/>
<path d="M42.60 50.00 C42.60 47.72 42.60 36.30 42.60 36.30 C42.60 36.30 45.10 40.90 45.10 40.90 C45.10 40.90 46.83 38.82 48.20 38.40 C49.57 37.98 52.45 38.40 53.30 38.40" fill="none" stroke="#ec6b2d" stroke-width="1.1" stroke-linejoin="round"/>
<circle cx="171.7" cy="48.6" r="1.8" fill="#3aa75e"/>
<circle cx="181.9" cy="50.5" r="1.8" fill="#7466c2"/>
<circle cx="180.9" cy="41.2" r="1.8" fill="#3f8fd2"/>
<circle cx="181.9" cy="43.0" r="1.8" fill="#ec6b2d"/>
</g>
<rect x="41.2" y="79.7" width="90.75" height="45.7" rx="1.2" fill="#fff" fill-opacity="0.8" stroke="#d0d0d0" stroke-width="0.7"/>
<text x="43.8" y="87.4" font-size="6.5" text-anchor="start" font-weight="normal" fill="#262626" stroke="#262626" stroke-width="0.1" transform="translate(43.8 87.4) scale(1 1.08) translate(-43.8 -87.4)">Variant caller</text>
<line x1="43.1" y1="93.6" x2="56.2" y2="93.6" stroke="#3a8cd1" stroke-width="1.5"/>
<text x="60.6" y="95.7" font-size="6.05" text-anchor="start" font-weight="normal" fill="#262626" stroke="#262626" stroke-width="0.09" transform="translate(60.6 95.7) scale(1 1.08) translate(-60.6 -95.7)">ClairS-TO SS (0.6176)</text>
<line x1="43.1" y1="102.23" x2="56.2" y2="102.23" stroke="#ee6a2f" stroke-width="1.5"/>
<text x="60.6" y="104.33" font-size="6.05" text-anchor="start" font-weight="normal" fill="#262626" stroke="#262626" stroke-width="0.09" transform="translate(60.6 104.33) scale(1 1.08) translate(-60.6 -104.33)">ClairS-TO SSRS (0.6634)</text>
<line x1="43.1" y1="110.86" x2="56.2" y2="110.86" stroke="#3ba55c" stroke-width="1.5"/>
<text x="60.6" y="112.96" font-size="6.05" text-anchor="start" font-weight="normal" fill="#262626" stroke="#262626" stroke-width="0.09" transform="translate(60.6 112.96) scale(1 1.08) translate(-60.6 -112.96)">Clair3 (0.5686)</text>
<line x1="43.1" y1="119.49" x2="56.2" y2="119.49" stroke="#7165c4" stroke-width="1.5"/>
<text x="60.6" y="121.59" font-size="6.05" text-anchor="start" font-weight="normal" fill="#262626" stroke="#262626" stroke-width="0.09" transform="translate(60.6 121.59) scale(1 1.08) translate(-60.6 -121.59)">DeepSomatic (0.6334)</text>
<rect x="274.2" y="10.5" width="162.4" height="117.7" fill="none" stroke="#606060" stroke-width="0.9"/>
<line x1="278.5" y1="128.2" x2="278.5" y2="129.8" stroke="#606060" stroke-width="0.8"/>
<text x="278.5" y="134.8" font-size="5.9" text-anchor="middle" font-weight="normal" fill="#262626" stroke="#262626" stroke-width="0.09" transform="translate(278.5 134.8) scale(1 1.08) translate(-278.5 -134.8)">0.0</text>
<line x1="309.3" y1="128.2" x2="309.3" y2="129.8" stroke="#606060" stroke-width="0.8"/>
<text x="309.3" y="134.8" font-size="5.9" text-anchor="middle" font-weight="normal" fill="#262626" stroke="#262626" stroke-width="0.09" transform="translate(309.3 134.8) scale(1 1.08) translate(-309.3 -134.8)">0.2</text>
<line x1="340.1" y1="128.2" x2="340.1" y2="129.8" stroke="#606060" stroke-width="0.8"/>
<text x="340.1" y="134.8" font-size="5.9" text-anchor="middle" font-weight="normal" fill="#262626" stroke="#262626" stroke-width="0.09" transform="translate(340.1 134.8) scale(1 1.08) translate(-340.1 -134.8)">0.4</text>
<line x1="370.9" y1="128.2" x2="370.9" y2="129.8" stroke="#606060" stroke-width="0.8"/>
<text x="370.9" y="134.8" font-size="5.9" text-anchor="middle" font-weight="normal" fill="#262626" stroke="#262626" stroke-width="0.09" transform="translate(370.9 134.8) scale(1 1.08) translate(-370.9 -134.8)">0.6</text>
<line x1="401.7" y1="128.2" x2="401.7" y2="129.8" stroke="#606060" stroke-width="0.8"/>
<text x="401.7" y="134.8" font-size="5.9" text-anchor="middle" font-weight="normal" fill="#262626" stroke="#262626" stroke-width="0.09" transform="translate(401.7 134.8) scale(1 1.08) translate(-401.7 -134.8)">0.8</text>
<line x1="432.5" y1="128.2" x2="432.5" y2="129.8" stroke="#606060" stroke-width="0.8"/>
<text x="432.5" y="134.8" font-size="5.9" text-anchor="middle" font-weight="normal" fill="#262626" stroke="#262626" stroke-width="0.09" transform="translate(432.5 134.8) scale(1 1.08) translate(-432.5 -134.8)">1.0</text>
<line x1="272.6" y1="124.7" x2="274.2" y2="124.7" stroke="#606060" stroke-width="0.8"/>
<text x="271.9" y="126.8" font-size="5.9" text-anchor="end" font-weight="normal" fill="#262626" stroke="#262626" stroke-width="0.09" transform="translate(271.9 126.8) scale(1 1.08) translate(-271.9 -126.8)">0.0</text>
<line x1="272.6" y1="110.89" x2="274.2" y2="110.89" stroke="#606060" stroke-width="0.8"/>
<text x="271.9" y="112.99" font-size="5.9" text-anchor="end" font-weight="normal" fill="#262626" stroke="#262626" stroke-width="0.09" transform="translate(271.9 112.99) scale(1 1.08) translate(-271.9 -112.99)">0.1</text>
<line x1="272.6" y1="97.08" x2="274.2" y2="97.08" stroke="#606060" stroke-width="0.8"/>
<text x="271.9" y="99.18" font-size="5.9" text-anchor="end" font-weight="normal" fill="#262626" stroke="#262626" stroke-width="0.09" transform="translate(271.9 99.18) scale(1 1.08) translate(-271.9 -99.18)">0.2</text>
<line x1="272.6" y1="83.27" x2="274.2" y2="83.27" stroke="#606060" stroke-width="0.8"/>
<text x="271.9" y="85.37" font-size="5.9" text-anchor="end" font-weight="normal" fill="#262626" stroke="#262626" stroke-width="0.09" transform="translate(271.9 85.37) scale(1 1.08) translate(-271.9 -85.37)">0.3</text>
<line x1="272.6" y1="69.46" x2="274.2" y2="69.46" stroke="#606060" stroke-width="0.8"/>
<text x="271.9" y="71.56" font-size="5.9" text-anchor="end" font-weight="normal" fill="#262626" stroke="#262626" stroke-width="0.09" transform="translate(271.9 71.56) scale(1 1.08) translate(-271.9 -71.56)">0.4</text>
<line x1="272.6" y1="55.65" x2="274.2" y2="55.65" stroke="#606060" stroke-width="0.8"/>
<text x="271.9" y="57.75" font-size="5.9" text-anchor="end" font-weight="normal" fill="#262626" stroke="#262626" stroke-width="0.09" transform="translate(271.9 57.75) scale(1 1.08) translate(-271.9 -57.75)">0.5</text>
<line x1="272.6" y1="41.84" x2="274.2" y2="41.84" stroke="#606060" stroke-width="0.8"/>
<text x="271.9" y="43.94" font-size="5.9" text-anchor="end" font-weight="normal" fill="#262626" stroke="#262626" stroke-width="0.09" transform="translate(271.9 43.94) scale(1 1.08) translate(-271.9 -43.94)">0.6</text>
<line x1="272.6" y1="28.03" x2="274.2" y2="28.03" stroke="#606060" stroke-width="0.8"/>
<text x="271.9" y="30.13" font-size="5.9" text-anchor="end" font-weight="normal" fill="#262626" stroke="#262626" stroke-width="0.09" transform="translate(271.9 30.13) scale(1 1.08) translate(-271.9 -30.13)">0.7</text>
<line x1="272.6" y1="14.22" x2="274.2" y2="14.22" stroke="#606060" stroke-width="0.8"/>
<text x="271.9" y="16.32" font-size="5.9" text-anchor="end" font-weight="normal" fill="#262626" stroke="#262626" stroke-width="0.09" transform="translate(271.9 16.32) scale(1 1.08) translate(-271.9 -16.32)">0.8</text>
<text x="355.4" y="7.2" font-size="6.55" text-anchor="middle" font-weight="normal" fill="#262626" stroke="#262626" stroke-width="0.1" transform="translate(355.4 7.2) scale(1 1.08) translate(-355.4 -7.2)">ONT COLO829 50x SNV (T:80%)</text>
<text x="355.4" y="144.6" font-size="6.6" text-anchor="middle" font-weight="normal" fill="#262626" stroke="#262626" stroke-width="0.1" transform="translate(355.4 144.6) scale(1 1.08) translate(-355.4 -144.6)">Recall</text>
<text x="258.3" y="69.35" font-size="6.6" text-anchor="middle" font-weight="normal" fill="#262626" stroke="#262626" stroke-width="0.1" transform="rotate(-90 258.3 69.35) translate(258.3 69.35) scale(1 1.08) translate(-258.3 -69.35)">Precision</text>
<clipPath id="clipa1"><rect x="274.2" y="10.5" width="162.4" height="117.7"/></clipPath>
<g clip-path="url(#clipa1)">
<path d="M277.90 116.90 C278.57 115.17 279.91 110.49 281.90 106.50 C284.28 101.72 288.97 92.68 292.20 88.20 C295.13 84.14 298.78 81.80 301.30 79.60 C303.58 77.61 305.38 76.68 307.30 75.00 C309.22 73.32 310.35 71.30 312.80 69.50 C315.25 67.70 318.22 65.88 322.00 64.20 C325.78 62.52 330.63 60.82 335.50 59.40 C340.37 57.98 346.23 56.60 351.20 55.70 C356.17 54.80 361.83 54.18 365.30 54.00 C367.99 53.86 369.85 54.25 372.00 54.60 C374.15 54.95 376.45 55.28 378.20 56.10 C379.95 56.92 381.17 58.28 382.50 59.50 C383.83 60.72 385.14 61.53 386.20 63.40 C387.87 66.33 390.20 72.33 392.50 77.10 C394.80 81.87 397.32 86.78 400.00 92.00 C402.68 97.22 407.17 105.67 408.60 108.40" fill="none" stroke="#3aa75e" stroke-width="1.1" stroke-dasharray="3.7 1.3" stroke-dashoffset="0" stroke-linejoin="round"/>
<path d="M278.60 60.00 C278.57 51.80 278.40 10.80 278.40 10.80 C278.40 10.80 278.05 26.27 278.60 29.70 C278.82 31.10 280.60 30.51 281.70 31.40 C282.95 32.42 284.28 34.58 286.10 35.80 C287.92 37.02 291.12 38.12 292.60 38.70 C293.52 39.06 294.01 39.21 295.00 39.30 C297.10 39.48 301.45 39.45 305.20 39.80 C308.95 40.15 312.56 40.95 317.50 41.40 C322.62 41.87 328.53 42.37 335.90 42.60 C343.82 42.85 353.36 42.92 365.00 42.90 C376.87 42.88 398.48 42.30 407.10 42.50 C410.99 42.59 414.03 42.90 416.70 44.10 C419.37 45.30 421.48 47.57 423.10 49.70 C424.72 51.83 425.72 54.08 426.40 56.90 C427.08 59.72 427.07 64.98 427.20 66.60" fill="none" stroke="#7466c2" stroke-width="1.1" stroke-dasharray="3.7 1.3" stroke-dashoffset="0" stroke-linejoin="round"/>
<path d="M278.90 22.00 C278.90 22.00 278.80 63.00 278.90 80.00 C279.00 97.00 279.50 124.00 279.50 124.00 C279.50 124.00 279.68 90.58 280.60 80.00 C281.29 72.03 283.35 65.40 285.00 60.50 C286.45 56.21 288.83 52.93 290.50 50.60 C291.92 48.62 293.11 48.03 295.00 46.50 C297.12 44.78 299.62 41.67 303.20 40.30 C306.78 38.93 316.50 38.30 316.50 38.30 C316.50 38.30 319.50 41.90 319.50 41.90 C319.50 41.90 323.26 41.41 325.70 40.80 C328.77 40.03 334.25 38.32 337.90 37.30 C341.55 36.28 347.60 34.70 347.60 34.70 C347.60 34.70 352.20 37.80 352.20 37.80 C352.20 37.80 360.67 36.88 365.00 36.20 C369.33 35.52 372.88 34.49 378.20 33.70 C384.15 32.82 394.95 31.45 400.70 30.90 C405.48 30.44 410.15 30.13 412.70 30.40 C414.26 30.56 415.07 31.55 416.00 32.50 C416.93 33.45 417.89 34.44 418.30 36.10 C418.95 38.70 419.63 46.10 419.90 48.10" fill="none" stroke="#3f8fd2" stroke-width="1.1" stroke-dasharray="3.7 1.3" stroke-dashoffset="0" stroke-linejoin="round"/>
<path d="M278.40 69.20 C278.58 65.37 278.77 51.40 279.50 46.20 C279.99 42.70 281.52 40.20 282.80 38.00 C284.08 35.80 285.75 34.20 287.20 33.00 C288.65 31.80 290.13 31.48 291.50 30.80 C292.87 30.12 295.40 28.90 295.40 28.90 C295.40 28.90 298.10 38.80 298.10 38.80 C298.10 38.80 299.97 38.74 301.10 38.30 C302.63 37.70 304.73 36.13 307.30 35.20 C309.87 34.27 314.72 33.03 316.50 32.70 C317.12 32.58 318.00 33.20 318.00 33.20 C318.00 33.20 319.22 35.17 320.50 35.70 C321.78 36.23 323.60 36.40 325.70 36.40 C328.27 36.40 332.17 35.98 335.90 35.70 C339.63 35.42 343.25 35.12 348.10 34.70 C352.95 34.28 358.24 33.81 365.00 33.20 C373.50 32.43 392.08 30.57 399.10 30.10 C402.30 29.89 404.70 30.00 407.10 30.40 C409.50 30.80 411.77 31.68 413.50 32.50 C415.23 33.32 416.43 33.90 417.50 35.30 C418.57 36.70 419.50 39.97 419.90 40.90" fill="none" stroke="#ec6b2d" stroke-width="1.1" stroke-dasharray="3.7 1.3" stroke-dashoffset="0" stroke-linejoin="round"/>
<path d="M278.40 69.20 C278.58 65.37 278.77 51.40 279.50 46.20 C279.99 42.70 281.52 40.20 282.80 38.00 C284.08 35.80 285.75 34.20 287.20 33.00 C288.65 31.80 290.13 31.48 291.50 30.80 C292.87 30.12 295.40 28.90 295.40 28.90" fill="none" stroke="#ec6b2d" stroke-width="1.1" stroke-linejoin="round"/>
<path d="M278.4 10.8 L278.6 29.7" fill="none" stroke="#7466c2" stroke-width="1.1" stroke-linejoin="round"/>
<circle cx="378.2" cy="56.1" r="1.8" fill="#3aa75e"/>
<circle cx="416.7" cy="44.1" r="1.8" fill="#7466c2"/>
<circle cx="412.7" cy="30.4" r="1.8" fill="#3f8fd2"/>
<circle cx="413.5" cy="32.5" r="1.8" fill="#ec6b2d"/>
</g>
<rect x="277.1" y="79.7" width="90.75" height="45.7" rx="1.2" fill="#fff" fill-opacity="0.8" stroke="#d0d0d0" stroke-width="0.7"/>
<text x="279.7" y="87.4" font-size="6.5" text-anchor="start" font-weight="normal" fill="#262626" stroke="#262626" stroke-width="0.1" transform="translate(279.7 87.4) scale(1 1.08) translate(-279.7 -87.4)">Variant caller</text>
<line x1="279" y1="93.6" x2="292.1" y2="93.6" stroke="#3a8cd1" stroke-width="1.5"/>
<text x="296.5" y="95.7" font-size="6.05" text-anchor="start" font-weight="normal" fill="#262626" stroke="#262626" stroke-width="0.09" transform="translate(296.5 95.7) scale(1 1.08) translate(-296.5 -95.7)">ClairS-TO SS (0.5930)</text>
<line x1="279" y1="102.23" x2="292.1" y2="102.23" stroke="#ee6a2f" stroke-width="1.5"/>
<text x="296.5" y="104.33" font-size="6.05" text-anchor="start" font-weight="normal" fill="#262626" stroke="#262626" stroke-width="0.09" transform="translate(296.5 104.33) scale(1 1.08) translate(-296.5 -104.33)">ClairS-TO SSRS (0.6256)</text>
<line x1="279" y1="110.86" x2="292.1" y2="110.86" stroke="#3ba55c" stroke-width="1.5"/>
<text x="296.5" y="112.96" font-size="6.05" text-anchor="start" font-weight="normal" fill="#262626" stroke="#262626" stroke-width="0.09" transform="translate(296.5 112.96) scale(1 1.08) translate(-296.5 -112.96)">Clair3 (0.3378)</text>
<line x1="279" y1="119.49" x2="292.1" y2="119.49" stroke="#7165c4" stroke-width="1.5"/>
<text x="296.5" y="121.59" font-size="6.05" text-anchor="start" font-weight="normal" fill="#262626" stroke="#262626" stroke-width="0.09" transform="translate(296.5 121.59) scale(1 1.08) translate(-296.5 -121.59)">DeepSomatic (0.5877)</text>
<rect x="509.5" y="10.5" width="163.1" height="117.7" fill="none" stroke="#606060" stroke-width="0.9"/>
<line x1="513.8" y1="128.2" x2="513.8" y2="129.8" stroke="#606060" stroke-width="0.8"/>
<text x="513.8" y="134.8" font-size="5.9" text-anchor="middle" font-weight="normal" fill="#262626" stroke="#262626" stroke-width="0.09" transform="translate(513.8 134.8) scale(1 1.08) translate(-513.8 -134.8)">0.0</text>
<line x1="544.6" y1="128.2" x2="544.6" y2="129.8" stroke="#606060" stroke-width="0.8"/>
<text x="544.6" y="134.8" font-size="5.9" text-anchor="middle" font-weight="normal" fill="#262626" stroke="#262626" stroke-width="0.09" transform="translate(544.6 134.8) scale(1 1.08) translate(-544.6 -134.8)">0.2</text>
<line x1="575.4" y1="128.2" x2="575.4" y2="129.8" stroke="#606060" stroke-width="0.8"/>
<text x="575.4" y="134.8" font-size="5.9" text-anchor="middle" font-weight="normal" fill="#262626" stroke="#262626" stroke-width="0.09" transform="translate(575.4 134.8) scale(1 1.08) translate(-575.4 -134.8)">0.4</text>
<line x1="606.2" y1="128.2" x2="606.2" y2="129.8" stroke="#606060" stroke-width="0.8"/>
<text x="606.2" y="134.8" font-size="5.9" text-anchor="middle" font-weight="normal" fill="#262626" stroke="#262626" stroke-width="0.09" transform="translate(606.2 134.8) scale(1 1.08) translate(-606.2 -134.8)">0.6</text>
<line x1="637" y1="128.2" x2="637" y2="129.8" stroke="#606060" stroke-width="0.8"/>
<text x="637" y="134.8" font-size="5.9" text-anchor="middle" font-weight="normal" fill="#262626" stroke="#262626" stroke-width="0.09" transform="translate(637 134.8) scale(1 1.08) translate(-637 -134.8)">0.8</text>
<line x1="667.8" y1="128.2" x2="667.8" y2="129.8" stroke="#606060" stroke-width="0.8"/>
<text x="667.8" y="134.8" font-size="5.9" text-anchor="middle" font-weight="normal" fill="#262626" stroke="#262626" stroke-width="0.09" transform="translate(667.8 134.8) scale(1 1.08) translate(-667.8 -134.8)">1.0</text>
<line x1="507.9" y1="124.7" x2="509.5" y2="124.7" stroke="#606060" stroke-width="0.8"/>
<text x="507.2" y="126.8" font-size="5.9" text-anchor="end" font-weight="normal" fill="#262626" stroke="#262626" stroke-width="0.09" transform="translate(507.2 126.8) scale(1 1.08) translate(-507.2 -126.8)">0.0</text>
<line x1="507.9" y1="110.89" x2="509.5" y2="110.89" stroke="#606060" stroke-width="0.8"/>
<text x="507.2" y="112.99" font-size="5.9" text-anchor="end" font-weight="normal" fill="#262626" stroke="#262626" stroke-width="0.09" transform="translate(507.2 112.99) scale(1 1.08) translate(-507.2 -112.99)">0.1</text>
<line x1="507.9" y1="97.08" x2="509.5" y2="97.08" stroke="#606060" stroke-width="0.8"/>
<text x="507.2" y="99.18" font-size="5.9" text-anchor="end" font-weight="normal" fill="#262626" stroke="#262626" stroke-width="0.09" transform="translate(507.2 99.18) scale(1 1.08) translate(-507.2 -99.18)">0.2</text>
<line x1="507.9" y1="83.27" x2="509.5" y2="83.27" stroke="#606060" stroke-width="0.8"/>
<text x="507.2" y="85.37" font-size="5.9" text-anchor="end" font-weight="normal" fill="#262626" stroke="#262626" stroke-width="0.09" transform="translate(507.2 85.37) scale(1 1.08) translate(-507.2 -85.37)">0.3</text>
<line x1="507.9" y1="69.46" x2="509.5" y2="69.46" stroke="#606060" stroke-width="0.8"/>
<text x="507.2" y="71.56" font-size="5.9" text-anchor="end" font-weight="normal" fill="#262626" stroke="#262626" stroke-width="0.09" transform="translate(507.2 71.56) scale(1 1.08) translate(-507.2 -71.56)">0.4</text>
<line x1="507.9" y1="55.65" x2="509.5" y2="55.65" stroke="#606060" stroke-width="0.8"/>
<text x="507.2" y="57.75" font-size="5.9" text-anchor="end" font-weight="normal" fill="#262626" stroke="#262626" stroke-width="0.09" transform="translate(507.2 57.75) scale(1 1.08) translate(-507.2 -57.75)">0.5</text>
<line x1="507.9" y1="41.84" x2="509.5" y2="41.84" stroke="#606060" stroke-width="0.8"/>
<text x="507.2" y="43.94" font-size="5.9" text-anchor="end" font-weight="normal" fill="#262626" stroke="#262626" stroke-width="0.09" transform="translate(507.2 43.94) scale(1 1.08) translate(-507.2 -43.94)">0.6</text>
<line x1="507.9" y1="28.03" x2="509.5" y2="28.03" stroke="#606060" stroke-width="0.8"/>
<text x="507.2" y="30.13" font-size="5.9" text-anchor="end" font-weight="normal" fill="#262626" stroke="#262626" stroke-width="0.09" transform="translate(507.2 30.13) scale(1 1.08) translate(-507.2 -30.13)">0.7</text>
<line x1="507.9" y1="14.22" x2="509.5" y2="14.22" stroke="#606060" stroke-width="0.8"/>
<text x="507.2" y="16.32" font-size="5.9" text-anchor="end" font-weight="normal" fill="#262626" stroke="#262626" stroke-width="0.09" transform="translate(507.2 16.32) scale(1 1.08) translate(-507.2 -16.32)">0.8</text>
<text x="591.05" y="7.2" font-size="6.55" text-anchor="middle" font-weight="normal" fill="#262626" stroke="#262626" stroke-width="0.1" transform="translate(591.05 7.2) scale(1 1.08) translate(-591.05 -7.2)">ONT COLO829 50x SNV (T:60%)</text>
<text x="591.05" y="144.6" font-size="6.6" text-anchor="middle" font-weight="normal" fill="#262626" stroke="#262626" stroke-width="0.1" transform="translate(591.05 144.6) scale(1 1.08) translate(-591.05 -144.6)">Recall</text>
<text x="494.3" y="69.35" font-size="6.6" text-anchor="middle" font-weight="normal" fill="#262626" stroke="#262626" stroke-width="0.1" transform="rotate(-90 494.3 69.35) translate(494.3 69.35) scale(1 1.08) translate(-494.3 -69.35)">Precision</text>
<clipPath id="clipa2"><rect x="509.5" y="10.5" width="163.1" height="117.7"/></clipPath>
<g clip-path="url(#clipa2)">
<line x1="514.5" y1="15.5" x2="514.5" y2="21.0" stroke="#3f8fd2" stroke-width="0.7" stroke-opacity="0.5"/>
<path d="M514.80 110.10 C515.67 108.42 518.30 102.68 520.00 100.00 C521.67 97.36 522.65 96.05 525.00 94.00 C527.35 91.95 530.77 89.45 534.10 87.70 C537.43 85.95 540.45 84.52 545.00 83.50 C549.55 82.48 557.12 81.57 561.40 81.60 C565.21 81.63 567.60 82.47 570.70 83.70 C573.80 84.93 576.73 86.73 580.00 89.00 C583.27 91.27 587.30 94.72 590.30 97.30 C593.30 99.88 595.32 101.95 598.00 104.50 C600.68 107.05 605.00 111.25 606.40 112.60" fill="none" stroke="#3aa75e" stroke-width="1.1" stroke-dasharray="3.7 1.3" stroke-dashoffset="0" stroke-linejoin="round"/>
<path d="M514.30 124.00 C514.33 116.67 514.45 90.87 514.50 80.00 C514.54 71.52 514.60 58.80 514.60 58.80 C514.60 58.80 516.85 59.43 517.80 59.50 C518.75 59.57 519.33 59.46 520.30 59.20 C521.65 58.83 524.13 57.47 525.90 57.30 C527.67 57.13 528.87 58.12 530.90 58.20 C534.75 58.35 542.65 58.55 549.00 58.20 C555.35 57.85 562.32 56.85 569.00 56.10 C575.68 55.35 581.06 54.69 589.10 53.70 C597.80 52.63 612.37 50.37 621.20 49.70 C629.54 49.07 637.28 49.43 642.10 49.70 C645.36 49.88 648.03 50.75 650.10 51.30 C651.92 51.79 653.17 52.20 654.50 53.00 C655.83 53.80 657.10 54.93 658.10 56.10 C659.10 57.27 659.91 58.27 660.50 60.00 C661.18 62.02 661.92 66.83 662.20 68.20" fill="none" stroke="#7466c2" stroke-width="1.1" stroke-dasharray="3.7 1.3" stroke-dashoffset="0" stroke-linejoin="round"/>
<path d="M514.60 20.40 C514.60 20.40 514.50 62.73 514.60 80.00 C514.70 97.27 515.20 124.00 515.20 124.00 C515.20 124.00 515.97 81.07 516.50 70.00 C516.74 64.99 517.67 60.93 518.40 57.60 C519.09 54.47 519.33 52.20 520.90 50.00 C522.47 47.80 527.80 44.40 527.80 44.40 C527.80 44.40 528.79 45.43 529.10 46.30 C529.52 47.45 530.30 51.30 530.30 51.30 C530.30 51.30 534.56 49.28 537.20 47.60 C540.32 45.62 546.75 40.92 549.00 39.40 C549.64 38.97 550.70 38.50 550.70 38.50 C550.70 38.50 552.72 42.07 554.00 42.90 C555.28 43.73 556.64 43.76 558.40 43.50 C560.90 43.13 564.76 41.83 569.00 40.70 C574.12 39.33 581.20 37.20 589.10 35.30 C597.00 33.40 608.37 30.30 616.40 29.30 C624.43 28.30 632.87 29.10 637.30 29.30 C639.63 29.41 641.40 29.77 643.00 30.50 C644.60 31.23 645.85 32.23 646.90 33.70 C647.95 35.17 648.85 37.27 649.30 39.30 C649.75 41.33 649.55 44.80 649.60 45.90" fill="none" stroke="#3f8fd2" stroke-width="1.1" stroke-dasharray="3.7 1.3" stroke-dashoffset="0" stroke-linejoin="round"/>
<path d="M514.20 78.00 C514.27 72.50 514.32 51.43 514.60 45.00 C514.70 42.70 515.47 40.43 515.90 39.40 C516.12 38.87 516.78 39.12 517.20 38.80 C517.62 38.48 518.40 37.50 518.40 37.50 C518.40 37.50 520.00 50.00 520.00 50.00 C520.00 50.00 520.88 48.90 521.50 48.20 C523.12 46.38 529.70 39.10 529.70 39.10 C529.70 39.10 529.87 41.32 530.60 42.20 C531.33 43.08 532.68 44.23 534.10 44.40 C535.52 44.57 537.14 43.82 539.10 43.20 C541.58 42.42 544.92 40.71 549.00 39.70 C553.98 38.47 562.32 37.15 569.00 35.80 C575.68 34.45 581.20 32.77 589.10 31.60 C597.00 30.43 608.90 29.20 616.40 28.80 C623.47 28.42 630.17 29.03 634.10 29.20 C636.47 29.30 638.27 29.47 640.00 29.80 C641.73 30.13 643.75 30.97 644.50 31.20" fill="none" stroke="#ec6b2d" stroke-width="1.1" stroke-dasharray="3.7 1.3" stroke-dashoffset="0" stroke-linejoin="round"/>
<circle cx="570.7" cy="83.7" r="1.8" fill="#3aa75e"/>
<circle cx="650.3" cy="51.2" r="1.8" fill="#7466c2"/>
<circle cx="644.5" cy="31.5" r="1.8" fill="#ec6b2d"/>
</g>
<rect x="512.4" y="79.7" width="90.75" height="45.7" rx="1.2" fill="#fff" fill-opacity="0.8" stroke="#d0d0d0" stroke-width="0.7"/>
<text x="515" y="87.4" font-size="6.5" text-anchor="start" font-weight="normal" fill="#262626" stroke="#262626" stroke-width="0.1" transform="translate(515 87.4) scale(1 1.08) translate(-515 -87.4)">Variant caller</text>
<line x1="514.3" y1="93.6" x2="527.4" y2="93.6" stroke="#3a8cd1" stroke-width="1.5"/>
<text x="531.8" y="95.7" font-size="6.05" text-anchor="start" font-weight="normal" fill="#262626" stroke="#262626" stroke-width="0.09" transform="translate(531.8 95.7) scale(1 1.08) translate(-531.8 -95.7)">ClairS-TO SS (0.5849)</text>
<line x1="514.3" y1="102.23" x2="527.4" y2="102.23" stroke="#ee6a2f" stroke-width="1.5"/>
<text x="531.8" y="104.33" font-size="6.05" text-anchor="start" font-weight="normal" fill="#262626" stroke="#262626" stroke-width="0.09" transform="translate(531.8 104.33) scale(1 1.08) translate(-531.8 -104.33)">ClairS-TO SSRS (0.6041)</text>
<line x1="514.3" y1="110.86" x2="527.4" y2="110.86" stroke="#3ba55c" stroke-width="1.5"/>
<text x="531.8" y="112.96" font-size="6.05" text-anchor="start" font-weight="normal" fill="#262626" stroke="#262626" stroke-width="0.09" transform="translate(531.8 112.96) scale(1 1.08) translate(-531.8 -112.96)">Clair3 (0.1494)</text>
<line x1="514.3" y1="119.49" x2="527.4" y2="119.49" stroke="#7165c4" stroke-width="1.5"/>
<text x="531.8" y="121.59" font-size="6.05" text-anchor="start" font-weight="normal" fill="#262626" stroke="#262626" stroke-width="0.09" transform="translate(531.8 121.59) scale(1 1.08) translate(-531.8 -121.59)">DeepSomatic (0.4980)</text>
<rect x="37.7" y="163.3" width="162.4" height="116.8" fill="none" stroke="#606060" stroke-width="0.9"/>
<line x1="42.3" y1="280.1" x2="42.3" y2="281.7" stroke="#606060" stroke-width="0.8"/>
<text x="42.3" y="286.7" font-size="5.9" text-anchor="middle" font-weight="normal" fill="#262626" stroke="#262626" stroke-width="0.09" transform="translate(42.3 286.7) scale(1 1.08) translate(-42.3 -286.7)">0.0</text>
<line x1="73.1" y1="280.1" x2="73.1" y2="281.7" stroke="#606060" stroke-width="0.8"/>
<text x="73.1" y="286.7" font-size="5.9" text-anchor="middle" font-weight="normal" fill="#262626" stroke="#262626" stroke-width="0.09" transform="translate(73.1 286.7) scale(1 1.08) translate(-73.1 -286.7)">0.2</text>
<line x1="103.9" y1="280.1" x2="103.9" y2="281.7" stroke="#606060" stroke-width="0.8"/>
<text x="103.9" y="286.7" font-size="5.9" text-anchor="middle" font-weight="normal" fill="#262626" stroke="#262626" stroke-width="0.09" transform="translate(103.9 286.7) scale(1 1.08) translate(-103.9 -286.7)">0.4</text>
<line x1="134.7" y1="280.1" x2="134.7" y2="281.7" stroke="#606060" stroke-width="0.8"/>
<text x="134.7" y="286.7" font-size="5.9" text-anchor="middle" font-weight="normal" fill="#262626" stroke="#262626" stroke-width="0.09" transform="translate(134.7 286.7) scale(1 1.08) translate(-134.7 -286.7)">0.6</text>
<line x1="165.5" y1="280.1" x2="165.5" y2="281.7" stroke="#606060" stroke-width="0.8"/>
<text x="165.5" y="286.7" font-size="5.9" text-anchor="middle" font-weight="normal" fill="#262626" stroke="#262626" stroke-width="0.09" transform="translate(165.5 286.7) scale(1 1.08) translate(-165.5 -286.7)">0.8</text>
<line x1="196.3" y1="280.1" x2="196.3" y2="281.7" stroke="#606060" stroke-width="0.8"/>
<text x="196.3" y="286.7" font-size="5.9" text-anchor="middle" font-weight="normal" fill="#262626" stroke="#262626" stroke-width="0.09" transform="translate(196.3 286.7) scale(1 1.08) translate(-196.3 -286.7)">1.0</text>
<line x1="36.1" y1="277.2" x2="37.7" y2="277.2" stroke="#606060" stroke-width="0.8"/>
<text x="35.4" y="279.3" font-size="5.9" text-anchor="end" font-weight="normal" fill="#262626" stroke="#262626" stroke-width="0.09" transform="translate(35.4 279.3) scale(1 1.08) translate(-35.4 -279.3)">0.0</text>
<line x1="36.1" y1="263.32" x2="37.7" y2="263.32" stroke="#606060" stroke-width="0.8"/>
<text x="35.4" y="265.43" font-size="5.9" text-anchor="end" font-weight="normal" fill="#262626" stroke="#262626" stroke-width="0.09" transform="translate(35.4 265.43) scale(1 1.08) translate(-35.4 -265.43)">0.1</text>
<line x1="36.1" y1="249.45" x2="37.7" y2="249.45" stroke="#606060" stroke-width="0.8"/>
<text x="35.4" y="251.55" font-size="5.9" text-anchor="end" font-weight="normal" fill="#262626" stroke="#262626" stroke-width="0.09" transform="translate(35.4 251.55) scale(1 1.08) translate(-35.4 -251.55)">0.2</text>
<line x1="36.1" y1="235.57" x2="37.7" y2="235.57" stroke="#606060" stroke-width="0.8"/>
<text x="35.4" y="237.67" font-size="5.9" text-anchor="end" font-weight="normal" fill="#262626" stroke="#262626" stroke-width="0.09" transform="translate(35.4 237.67) scale(1 1.08) translate(-35.4 -237.67)">0.3</text>
<line x1="36.1" y1="221.7" x2="37.7" y2="221.7" stroke="#606060" stroke-width="0.8"/>
<text x="35.4" y="223.8" font-size="5.9" text-anchor="end" font-weight="normal" fill="#262626" stroke="#262626" stroke-width="0.09" transform="translate(35.4 223.8) scale(1 1.08) translate(-35.4 -223.8)">0.4</text>
<line x1="36.1" y1="207.82" x2="37.7" y2="207.82" stroke="#606060" stroke-width="0.8"/>
<text x="35.4" y="209.92" font-size="5.9" text-anchor="end" font-weight="normal" fill="#262626" stroke="#262626" stroke-width="0.09" transform="translate(35.4 209.92) scale(1 1.08) translate(-35.4 -209.92)">0.5</text>
<line x1="36.1" y1="193.95" x2="37.7" y2="193.95" stroke="#606060" stroke-width="0.8"/>
<text x="35.4" y="196.05" font-size="5.9" text-anchor="end" font-weight="normal" fill="#262626" stroke="#262626" stroke-width="0.09" transform="translate(35.4 196.05) scale(1 1.08) translate(-35.4 -196.05)">0.6</text>
<line x1="36.1" y1="180.07" x2="37.7" y2="180.07" stroke="#606060" stroke-width="0.8"/>
<text x="35.4" y="182.17" font-size="5.9" text-anchor="end" font-weight="normal" fill="#262626" stroke="#262626" stroke-width="0.09" transform="translate(35.4 182.17) scale(1 1.08) translate(-35.4 -182.17)">0.7</text>
<line x1="36.1" y1="166.2" x2="37.7" y2="166.2" stroke="#606060" stroke-width="0.8"/>
<text x="35.4" y="168.3" font-size="5.9" text-anchor="end" font-weight="normal" fill="#262626" stroke="#262626" stroke-width="0.09" transform="translate(35.4 168.3) scale(1 1.08) translate(-35.4 -168.3)">0.8</text>
<text x="118.9" y="160" font-size="6.55" text-anchor="middle" font-weight="normal" fill="#262626" stroke="#262626" stroke-width="0.1" transform="translate(118.9 160) scale(1 1.08) translate(-118.9 -160)">ONT COLO829 50x SNV (T:40%)</text>
<text x="118.9" y="296.5" font-size="6.6" text-anchor="middle" font-weight="normal" fill="#262626" stroke="#262626" stroke-width="0.1" transform="translate(118.9 296.5) scale(1 1.08) translate(-118.9 -296.5)">Recall</text>
<text x="22.3" y="221.7" font-size="6.6" text-anchor="middle" font-weight="normal" fill="#262626" stroke="#262626" stroke-width="0.1" transform="rotate(-90 22.3 221.7) translate(22.3 221.7) scale(1 1.08) translate(-22.3 -221.7)">Precision</text>
<clipPath id="clipa3"><rect x="37.7" y="163.3" width="162.4" height="116.8"/></clipPath>
<g clip-path="url(#clipa3)">
<line x1="42.5" y1="179.5" x2="42.5" y2="185.0" stroke="#3f8fd2" stroke-width="0.7" stroke-opacity="0.5"/>
<path d="M41.40 274.60 C42.00 273.50 43.30 270.18 45.00 268.00 C46.70 265.82 49.60 263.07 51.60 261.50 C53.53 259.99 55.05 259.22 57.00 258.60 C58.95 257.98 61.52 257.68 63.30 257.80 C65.08 257.92 65.95 258.67 67.70 259.30 C69.65 260.00 72.62 260.55 75.00 262.00 C77.38 263.45 79.83 265.67 82.00 268.00 C84.17 270.33 87.00 274.67 88.00 276.00" fill="none" stroke="#3aa75e" stroke-width="1.1" stroke-dasharray="3.7 1.3" stroke-dashoffset="0" stroke-linejoin="round"/>
<path d="M42.50 277.00 C42.50 263.33 42.50 202.83 42.50 195.00 C42.50 187.17 42.08 217.83 42.50 230.00 C42.92 242.17 42.92 264.67 45.00 268.00 C47.08 271.33 51.47 256.07 55.00 250.00 C58.53 243.93 61.28 235.77 66.20 231.60 C71.12 227.43 78.72 227.12 84.50 225.00 C90.28 222.88 95.62 220.50 100.90 218.90 C106.18 217.30 111.35 216.38 116.20 215.40 C121.05 214.42 125.50 213.88 130.00 213.00 C134.50 212.12 137.85 210.84 143.20 210.10 C148.60 209.35 156.92 208.50 162.40 208.50 C167.88 208.50 172.62 209.15 176.10 210.10 C179.30 210.97 181.43 212.18 183.30 214.20 C185.17 216.22 186.63 220.87 187.30 222.20" fill="none" stroke="#7466c2" stroke-width="1.1" stroke-dasharray="3.7 1.3" stroke-dashoffset="0" stroke-linejoin="round"/>
<path d="M42.50 184.40 C42.50 199.67 42.17 268.07 42.50 276.00 C42.83 283.93 43.95 239.87 44.50 232.00 C44.60 230.62 45.22 229.88 45.80 228.80 C46.38 227.72 47.08 226.78 48.00 225.50 C48.92 224.22 50.04 222.90 51.30 221.10 C52.57 219.28 54.42 216.42 55.60 214.60 C56.74 212.85 57.57 210.03 58.40 210.20 C59.23 210.37 59.87 214.60 60.60 215.60 C61.14 216.34 62.00 216.64 62.80 216.20 C64.40 215.32 67.27 212.40 70.20 210.30 C73.13 208.20 76.98 205.65 80.40 203.60 C83.82 201.55 87.28 199.70 90.70 198.00 C94.12 196.30 97.50 194.93 100.90 193.40 C104.30 191.87 106.79 190.01 111.10 188.80 C115.95 187.43 124.65 186.13 130.00 185.20 C135.26 184.28 138.33 183.87 143.20 183.20 C148.07 182.53 154.52 181.20 159.20 181.20 C163.88 181.20 168.88 182.38 171.30 183.20 C172.73 183.68 173.25 184.66 173.70 186.10 C174.32 188.05 174.78 193.43 175.00 194.90" fill="none" stroke="#3f8fd2" stroke-width="1.1" stroke-dasharray="3.7 1.3" stroke-dashoffset="0" stroke-linejoin="round"/>
<path d="M42.50 276.00 C42.52 268.50 42.05 240.05 42.60 231.00 C42.84 227.07 45.00 222.88 45.80 221.70 C46.41 220.80 46.48 224.35 47.40 223.90 C48.32 223.45 49.46 220.70 51.30 219.00 C53.40 217.07 56.85 214.52 60.00 212.30 C63.15 210.08 66.80 207.83 70.20 205.70 C73.60 203.57 76.98 201.22 80.40 199.50 C83.82 197.78 87.28 196.85 90.70 195.40 C94.12 193.95 97.50 192.07 100.90 190.80 C104.30 189.53 106.95 188.74 111.10 187.80 C115.95 186.70 124.65 185.17 130.00 184.20 C135.27 183.25 138.33 182.55 143.20 182.00 C148.07 181.45 154.92 180.90 159.20 180.90 C163.10 180.90 167.28 181.82 168.90 182.00" fill="none" stroke="#ec6b2d" stroke-width="1.1" stroke-dasharray="3.7 1.3" stroke-dashoffset="0" stroke-linejoin="round"/>
<path d="M42.60 231.00 C43.13 229.45 45.80 221.70 45.80 221.70 C45.80 221.70 47.40 223.90 47.40 223.90 C47.40 223.90 49.46 220.70 51.30 219.00 C53.40 217.07 58.55 213.42 60.00 212.30" fill="none" stroke="#ec6b2d" stroke-width="1.1" stroke-linejoin="round"/>
<circle cx="176.1" cy="210.1" r="1.8" fill="#7466c2"/>
<circle cx="171.3" cy="183.2" r="1.8" fill="#3f8fd2"/>
<circle cx="168.9" cy="182.0" r="1.8" fill="#ec6b2d"/>
</g>
<rect x="40.6" y="231.6" width="90.75" height="45.7" rx="1.2" fill="#fff" fill-opacity="0.8" stroke="#d0d0d0" stroke-width="0.7"/>
<text x="43.2" y="239.3" font-size="6.5" text-anchor="start" font-weight="normal" fill="#262626" stroke="#262626" stroke-width="0.1" transform="translate(43.2 239.3) scale(1 1.08) translate(-43.2 -239.3)">Variant caller</text>
<line x1="42.5" y1="245.5" x2="55.6" y2="245.5" stroke="#3a8cd1" stroke-width="1.5"/>
<text x="60" y="247.6" font-size="6.05" text-anchor="start" font-weight="normal" fill="#262626" stroke="#262626" stroke-width="0.09" transform="translate(60 247.6) scale(1 1.08) translate(-60 -247.6)">ClairS-TO SS (0.5470)</text>
<line x1="42.5" y1="254.13" x2="55.6" y2="254.13" stroke="#ee6a2f" stroke-width="1.5"/>
<text x="60" y="256.23" font-size="6.05" text-anchor="start" font-weight="normal" fill="#262626" stroke="#262626" stroke-width="0.09" transform="translate(60 256.23) scale(1 1.08) translate(-60 -256.23)">ClairS-TO SSRS (0.5500)</text>
<line x1="42.5" y1="262.76" x2="55.6" y2="262.76" stroke="#3ba55c" stroke-width="1.5"/>
<text x="60" y="264.86" font-size="6.05" text-anchor="start" font-weight="normal" fill="#262626" stroke="#262626" stroke-width="0.09" transform="translate(60 264.86) scale(1 1.08) translate(-60 -264.86)">Clair3 (0.0475)</text>
<line x1="42.5" y1="271.39" x2="55.6" y2="271.39" stroke="#7165c4" stroke-width="1.5"/>
<text x="60" y="273.49" font-size="6.05" text-anchor="start" font-weight="normal" fill="#262626" stroke="#262626" stroke-width="0.09" transform="translate(60 273.49) scale(1 1.08) translate(-60 -273.49)">DeepSomatic (0.3992)</text>
<rect x="274.2" y="163.4" width="162.2" height="116.7" fill="none" stroke="#606060" stroke-width="0.9"/>
<line x1="278.5" y1="280.1" x2="278.5" y2="281.7" stroke="#606060" stroke-width="0.8"/>
<text x="278.5" y="286.7" font-size="5.9" text-anchor="middle" font-weight="normal" fill="#262626" stroke="#262626" stroke-width="0.09" transform="translate(278.5 286.7) scale(1 1.08) translate(-278.5 -286.7)">0.0</text>
<line x1="309.3" y1="280.1" x2="309.3" y2="281.7" stroke="#606060" stroke-width="0.8"/>
<text x="309.3" y="286.7" font-size="5.9" text-anchor="middle" font-weight="normal" fill="#262626" stroke="#262626" stroke-width="0.09" transform="translate(309.3 286.7) scale(1 1.08) translate(-309.3 -286.7)">0.2</text>
<line x1="340.1" y1="280.1" x2="340.1" y2="281.7" stroke="#606060" stroke-width="0.8"/>
<text x="340.1" y="286.7" font-size="5.9" text-anchor="middle" font-weight="normal" fill="#262626" stroke="#262626" stroke-width="0.09" transform="translate(340.1 286.7) scale(1 1.08) translate(-340.1 -286.7)">0.4</text>
<line x1="370.9" y1="280.1" x2="370.9" y2="281.7" stroke="#606060" stroke-width="0.8"/>
<text x="370.9" y="286.7" font-size="5.9" text-anchor="middle" font-weight="normal" fill="#262626" stroke="#262626" stroke-width="0.09" transform="translate(370.9 286.7) scale(1 1.08) translate(-370.9 -286.7)">0.6</text>
<line x1="401.7" y1="280.1" x2="401.7" y2="281.7" stroke="#606060" stroke-width="0.8"/>
<text x="401.7" y="286.7" font-size="5.9" text-anchor="middle" font-weight="normal" fill="#262626" stroke="#262626" stroke-width="0.09" transform="translate(401.7 286.7) scale(1 1.08) translate(-401.7 -286.7)">0.8</text>
<line x1="432.5" y1="280.1" x2="432.5" y2="281.7" stroke="#606060" stroke-width="0.8"/>
<text x="432.5" y="286.7" font-size="5.9" text-anchor="middle" font-weight="normal" fill="#262626" stroke="#262626" stroke-width="0.09" transform="translate(432.5 286.7) scale(1 1.08) translate(-432.5 -286.7)">1.0</text>
<line x1="272.6" y1="277.2" x2="274.2" y2="277.2" stroke="#606060" stroke-width="0.8"/>
<text x="271.9" y="279.3" font-size="5.9" text-anchor="end" font-weight="normal" fill="#262626" stroke="#262626" stroke-width="0.09" transform="translate(271.9 279.3) scale(1 1.08) translate(-271.9 -279.3)">0.0</text>
<line x1="272.6" y1="263.32" x2="274.2" y2="263.32" stroke="#606060" stroke-width="0.8"/>
<text x="271.9" y="265.43" font-size="5.9" text-anchor="end" font-weight="normal" fill="#262626" stroke="#262626" stroke-width="0.09" transform="translate(271.9 265.43) scale(1 1.08) translate(-271.9 -265.43)">0.1</text>
<line x1="272.6" y1="249.45" x2="274.2" y2="249.45" stroke="#606060" stroke-width="0.8"/>
<text x="271.9" y="251.55" font-size="5.9" text-anchor="end" font-weight="normal" fill="#262626" stroke="#262626" stroke-width="0.09" transform="translate(271.9 251.55) scale(1 1.08) translate(-271.9 -251.55)">0.2</text>
<line x1="272.6" y1="235.57" x2="274.2" y2="235.57" stroke="#606060" stroke-width="0.8"/>
<text x="271.9" y="237.67" font-size="5.9" text-anchor="end" font-weight="normal" fill="#262626" stroke="#262626" stroke-width="0.09" transform="translate(271.9 237.67) scale(1 1.08) translate(-271.9 -237.67)">0.3</text>
<line x1="272.6" y1="221.7" x2="274.2" y2="221.7" stroke="#606060" stroke-width="0.8"/>
<text x="271.9" y="223.8" font-size="5.9" text-anchor="end" font-weight="normal" fill="#262626" stroke="#262626" stroke-width="0.09" transform="translate(271.9 223.8) scale(1 1.08) translate(-271.9 -223.8)">0.4</text>
<line x1="272.6" y1="207.82" x2="274.2" y2="207.82" stroke="#606060" stroke-width="0.8"/>
<text x="271.9" y="209.92" font-size="5.9" text-anchor="end" font-weight="normal" fill="#262626" stroke="#262626" stroke-width="0.09" transform="translate(271.9 209.92) scale(1 1.08) translate(-271.9 -209.92)">0.5</text>
<line x1="272.6" y1="193.95" x2="274.2" y2="193.95" stroke="#606060" stroke-width="0.8"/>
<text x="271.9" y="196.05" font-size="5.9" text-anchor="end" font-weight="normal" fill="#262626" stroke="#262626" stroke-width="0.09" transform="translate(271.9 196.05) scale(1 1.08) translate(-271.9 -196.05)">0.6</text>
<line x1="272.6" y1="180.07" x2="274.2" y2="180.07" stroke="#606060" stroke-width="0.8"/>
<text x="271.9" y="182.17" font-size="5.9" text-anchor="end" font-weight="normal" fill="#262626" stroke="#262626" stroke-width="0.09" transform="translate(271.9 182.17) scale(1 1.08) translate(-271.9 -182.17)">0.7</text>
<line x1="272.6" y1="166.2" x2="274.2" y2="166.2" stroke="#606060" stroke-width="0.8"/>
<text x="271.9" y="168.3" font-size="5.9" text-anchor="end" font-weight="normal" fill="#262626" stroke="#262626" stroke-width="0.09" transform="translate(271.9 168.3) scale(1 1.08) translate(-271.9 -168.3)">0.8</text>
<text x="355.3" y="160.1" font-size="6.55" text-anchor="middle" font-weight="normal" fill="#262626" stroke="#262626" stroke-width="0.1" transform="translate(355.3 160.1) scale(1 1.08) translate(-355.3 -160.1)">ONT COLO829 50x SNV (T:20%)</text>
<text x="355.3" y="296.5" font-size="6.6" text-anchor="middle" font-weight="normal" fill="#262626" stroke="#262626" stroke-width="0.1" transform="translate(355.3 296.5) scale(1 1.08) translate(-355.3 -296.5)">Recall</text>
<text x="258.5" y="221.75" font-size="6.6" text-anchor="middle" font-weight="normal" fill="#262626" stroke="#262626" stroke-width="0.1" transform="rotate(-90 258.5 221.75) translate(258.5 221.75) scale(1 1.08) translate(-258.5 -221.75)">Precision</text>
<clipPath id="clipa4"><rect x="274.2" y="163.4" width="162.2" height="116.7"/></clipPath>
<g clip-path="url(#clipa4)">
<path d="M279.00 276.00 C279.50 275.33 280.95 273.13 282.00 272.00 C283.05 270.87 284.13 269.87 285.30 269.20 C286.47 268.53 287.88 268.03 289.00 268.00 C290.12 267.97 291.50 268.83 292.00 269.00" fill="none" stroke="#3aa75e" stroke-width="1.1" stroke-dasharray="3.7 1.3" stroke-dashoffset="0" stroke-linejoin="round"/>
<path d="M278.80 275.00 C280.67 272.00 285.63 262.00 290.00 257.00 C294.37 252.00 300.00 248.42 305.00 245.00 C310.00 241.58 315.27 238.78 320.00 236.50 C324.73 234.22 329.63 232.67 333.40 231.30 C337.04 229.98 338.89 229.42 342.60 228.30 C346.37 227.17 351.43 225.62 356.00 224.50 C360.57 223.38 366.00 222.28 370.00 221.60 C373.97 220.92 377.25 220.68 380.00 220.40 C382.59 220.13 384.05 219.88 386.50 219.90 C388.95 219.92 392.52 220.03 394.70 220.50 C396.80 220.95 397.87 221.60 399.60 222.70 C401.33 223.80 404.18 226.37 405.10 227.10" fill="none" stroke="#7466c2" stroke-width="1.1" stroke-dasharray="3.7 1.3" stroke-dashoffset="0" stroke-linejoin="round"/>
<path d="M277.30 276.30 C278.25 272.47 281.00 260.57 283.00 253.30 C285.00 246.03 287.55 237.37 289.30 232.70 C290.50 229.51 291.65 228.16 293.50 225.30 C295.52 222.18 298.33 217.65 301.40 214.00 C304.47 210.35 308.40 206.28 311.90 203.40 C315.40 200.52 318.75 198.95 322.40 196.70 C326.05 194.45 330.87 191.30 333.80 189.90 C336.11 188.80 337.55 189.05 340.00 188.30 C342.50 187.53 345.22 186.30 348.80 185.30 C352.45 184.28 357.23 182.98 361.90 182.20 C366.57 181.42 373.15 180.80 376.80 180.60 C379.60 180.45 382.35 180.87 383.80 181.00 C384.50 181.06 385.04 180.88 385.50 181.40 C386.00 181.97 386.62 183.10 386.80 184.40 C387.10 186.58 387.22 192.82 387.30 194.50" fill="none" stroke="#3f8fd2" stroke-width="1.1" stroke-dasharray="3.7 1.3" stroke-dashoffset="2.5" stroke-linejoin="round"/>
<path d="M277.30 275.80 C278.25 271.97 281.00 260.07 283.00 252.80 C285.00 245.53 287.55 236.87 289.30 232.20 C290.50 229.01 291.65 227.66 293.50 224.80 C295.52 221.68 298.33 217.15 301.40 213.50 C304.47 209.85 308.40 205.78 311.90 202.90 C315.40 200.02 318.75 198.45 322.40 196.20 C326.05 193.95 330.87 190.80 333.80 189.40 C336.11 188.30 337.55 188.54 340.00 187.80 C342.50 187.05 345.23 185.88 348.80 184.90 C352.45 183.90 357.23 182.57 361.90 181.80 C366.57 181.03 374.32 180.55 376.80 180.30" fill="none" stroke="#ec6b2d" stroke-width="1.1" stroke-dasharray="3.7 1.3" stroke-dashoffset="0" stroke-linejoin="round"/>
<circle cx="394.7" cy="220.5" r="1.8" fill="#7466c2"/>
<circle cx="385.5" cy="181.4" r="1.8" fill="#3f8fd2"/>
<circle cx="376.8" cy="180.3" r="1.8" fill="#ec6b2d"/>
</g>
<rect x="277.1" y="231.6" width="90.75" height="45.7" rx="1.2" fill="#fff" fill-opacity="0.8" stroke="#d0d0d0" stroke-width="0.7"/>
<text x="279.7" y="239.3" font-size="6.5" text-anchor="start" font-weight="normal" fill="#262626" stroke="#262626" stroke-width="0.1" transform="translate(279.7 239.3) scale(1 1.08) translate(-279.7 -239.3)">Variant caller</text>
<line x1="279" y1="245.5" x2="292.1" y2="245.5" stroke="#3a8cd1" stroke-width="1.5"/>
<text x="296.5" y="247.6" font-size="6.05" text-anchor="start" font-weight="normal" fill="#262626" stroke="#262626" stroke-width="0.09" transform="translate(296.5 247.6) scale(1 1.08) translate(-296.5 -247.6)">ClairS-TO SS (0.4851)</text>
<line x1="279" y1="254.13" x2="292.1" y2="254.13" stroke="#ee6a2f" stroke-width="1.5"/>
<text x="296.5" y="256.23" font-size="6.05" text-anchor="start" font-weight="normal" fill="#262626" stroke="#262626" stroke-width="0.09" transform="translate(296.5 256.23) scale(1 1.08) translate(-296.5 -256.23)">ClairS-TO SSRS (0.4797)</text>
<line x1="279" y1="262.76" x2="292.1" y2="262.76" stroke="#3ba55c" stroke-width="1.5"/>
<text x="296.5" y="264.86" font-size="6.05" text-anchor="start" font-weight="normal" fill="#262626" stroke="#262626" stroke-width="0.09" transform="translate(296.5 264.86) scale(1 1.08) translate(-296.5 -264.86)">Clair3 (0.0144)</text>
<line x1="279" y1="271.39" x2="292.1" y2="271.39" stroke="#7165c4" stroke-width="1.5"/>
<text x="296.5" y="273.49" font-size="6.05" text-anchor="start" font-weight="normal" fill="#262626" stroke="#262626" stroke-width="0.09" transform="translate(296.5 273.49) scale(1 1.08) translate(-296.5 -273.49)">DeepSomatic (0.2878)</text>
</svg></body></html>
